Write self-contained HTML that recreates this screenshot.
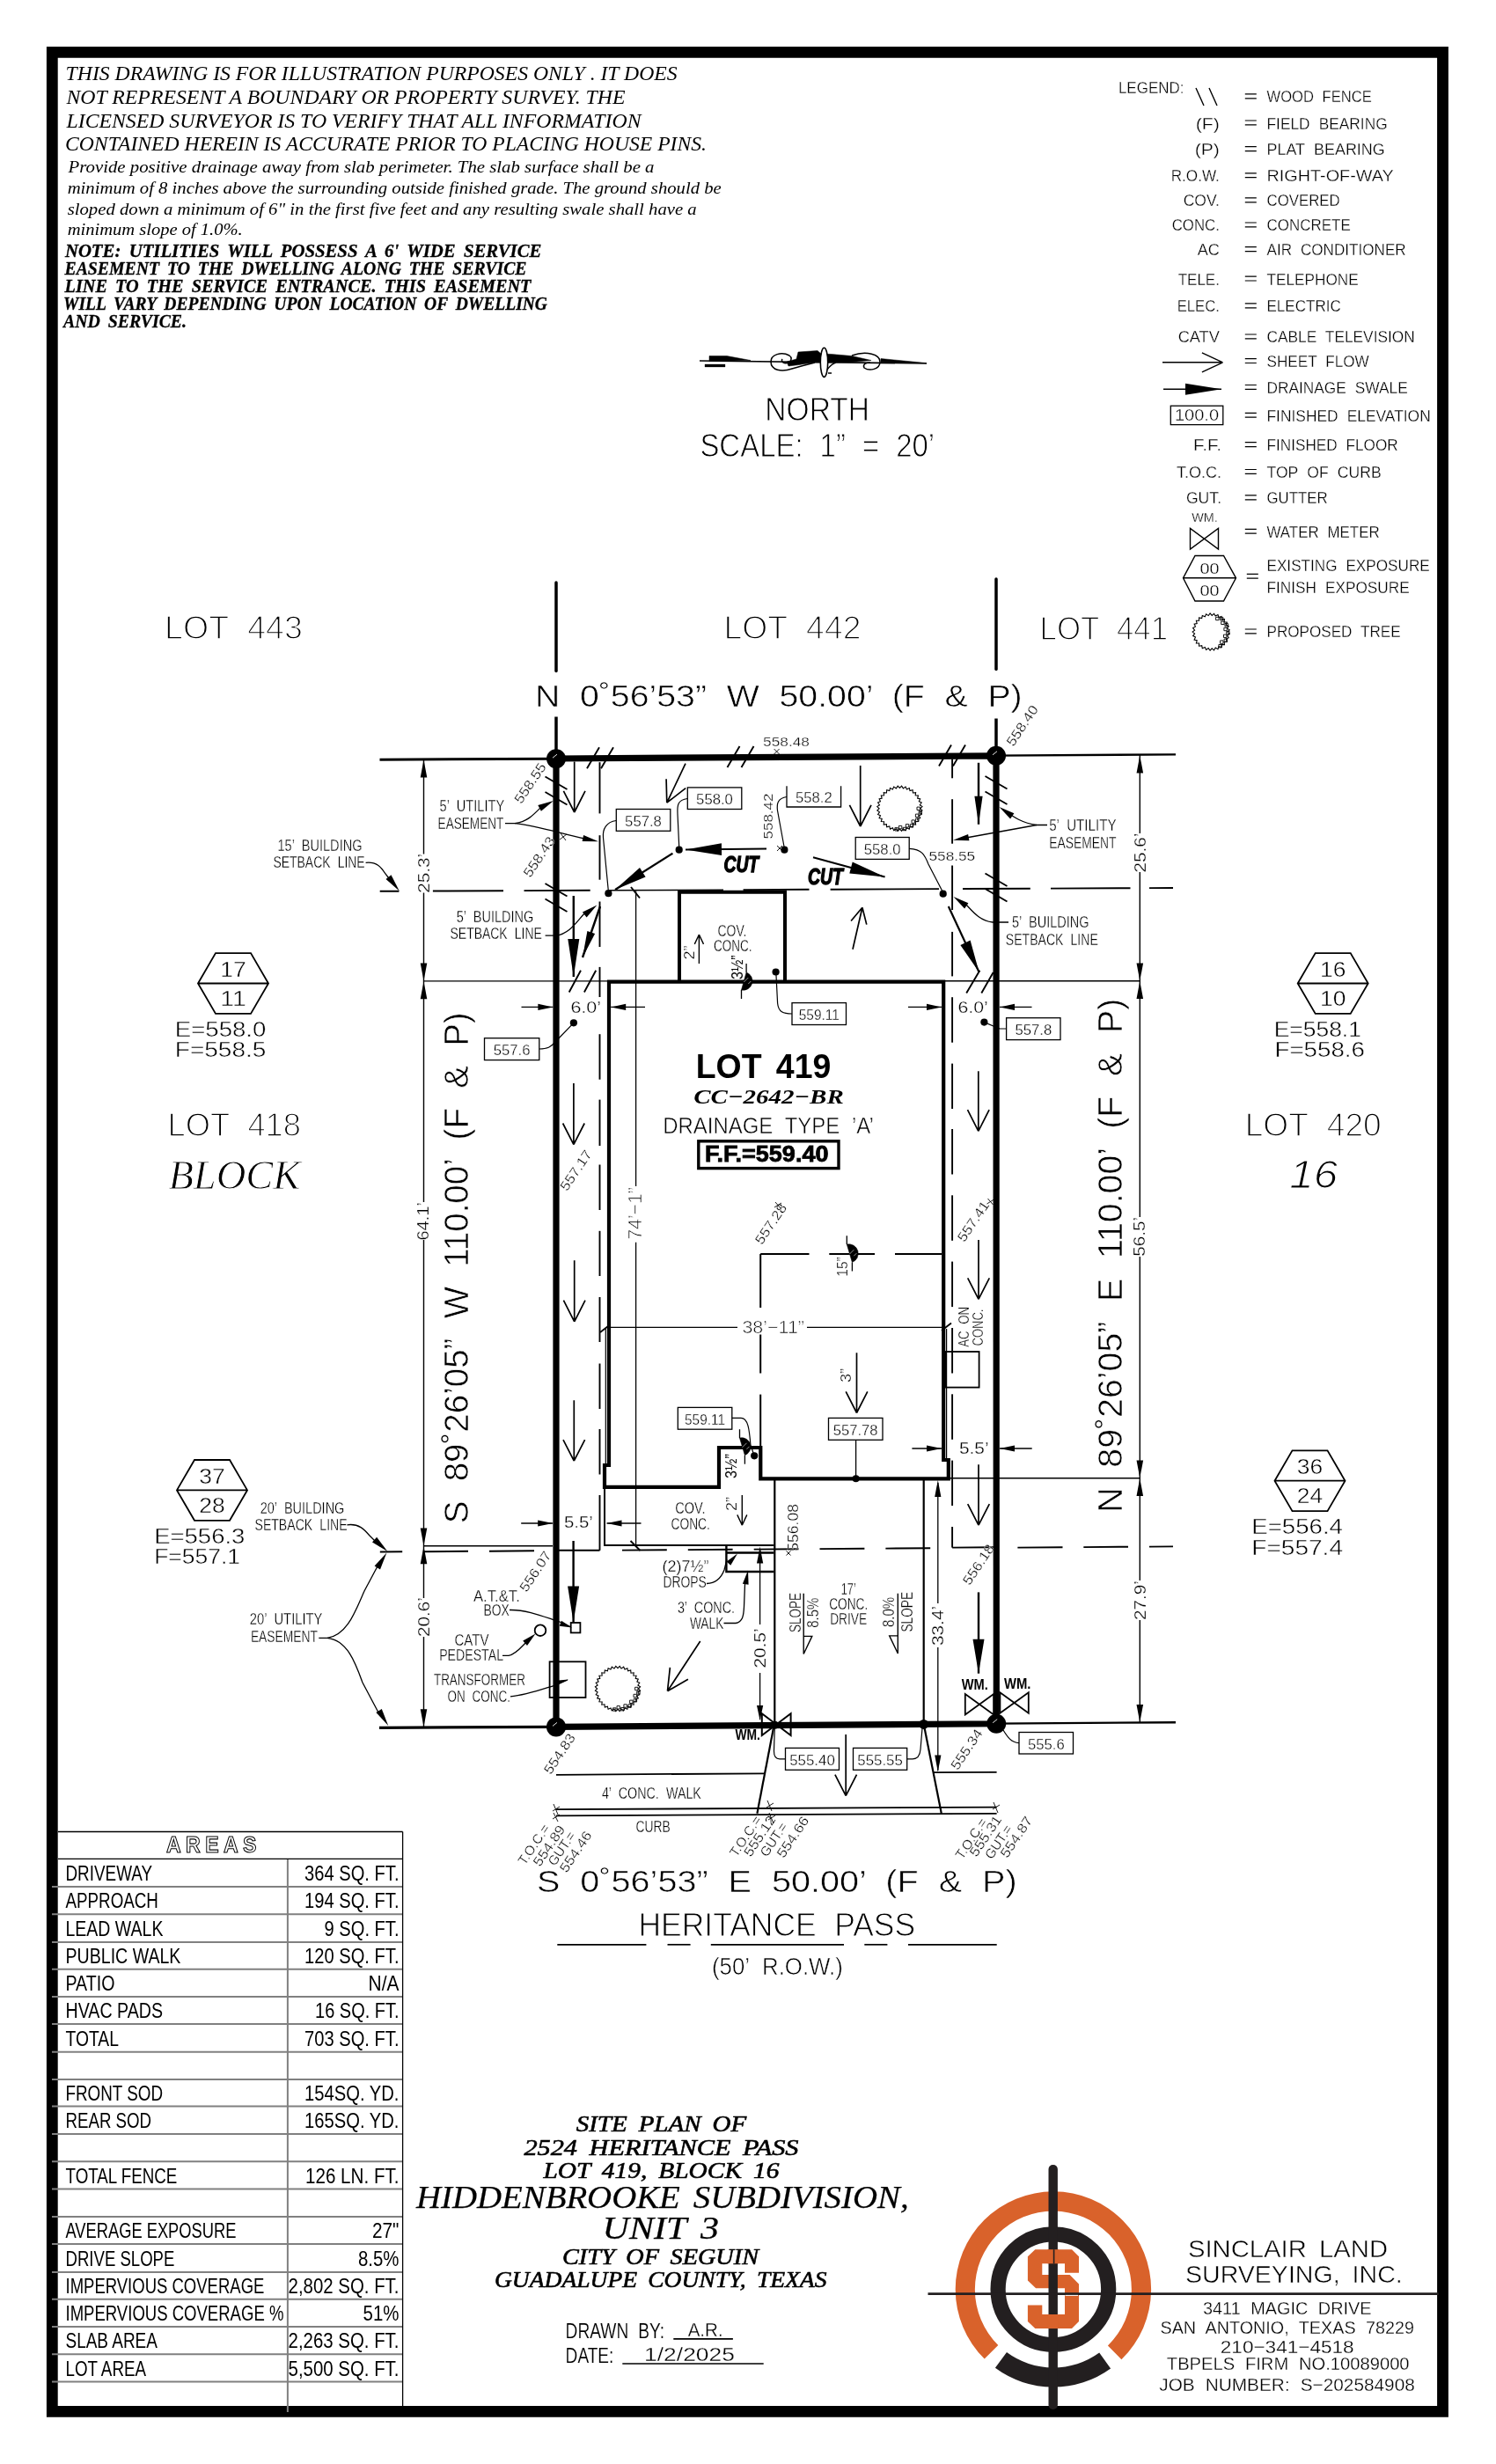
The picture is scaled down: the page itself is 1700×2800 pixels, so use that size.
<!DOCTYPE html>
<html lang="en"><head><meta charset="utf-8"><title>Site Plan</title>
<style>html,body{margin:0;padding:0;background:#fff}svg{display:block}text{font-family:"Liberation Sans",sans-serif}</style></head>
<body>
<svg width="1700" height="2800" viewBox="0 0 1700 2800" font-family="Liberation Sans, sans-serif" fill="#000">
<defs><filter id="gs" x="0" y="0" width="1700" height="2800" filterUnits="userSpaceOnUse" color-interpolation-filters="sRGB"><feColorMatrix type="saturate" values="0"/></filter></defs>
<g filter="url(#gs)">
<path d="M52.9 53H1645.9V2746.7H52.9ZM65.7 65.7V2734.1H1633.1V65.7Z" fill="#000" fill-rule="evenodd"/>
<text x="74.6" y="91.4" font-size="22.6" textLength="695.0" lengthAdjust="spacingAndGlyphs" style="font-family:'Liberation Serif',serif" font-style="italic">THIS DRAWING IS FOR ILLUSTRATION PURPOSES ONLY . IT DOES</text>
<text x="75.5" y="118.2" font-size="22.6" textLength="635.0" lengthAdjust="spacingAndGlyphs" style="font-family:'Liberation Serif',serif" font-style="italic">NOT REPRESENT A BOUNDARY OR PROPERTY SURVEY. THE</text>
<text x="75.5" y="145.0" font-size="22.6" textLength="653.0" lengthAdjust="spacingAndGlyphs" style="font-family:'Liberation Serif',serif" font-style="italic">LICENSED SURVEYOR IS TO VERIFY THAT ALL INFORMATION</text>
<text x="74.0" y="170.6" font-size="22.6" textLength="729.0" lengthAdjust="spacingAndGlyphs" style="font-family:'Liberation Serif',serif" font-style="italic">CONTAINED HEREIN IS ACCURATE PRIOR TO PLACING HOUSE PINS.</text>
<text x="77.5" y="195.7" font-size="19.6" textLength="666.0" lengthAdjust="spacingAndGlyphs" style="font-family:'Liberation Serif',serif" font-style="italic">Provide positive drainage away from slab perimeter. The slab surface shall be a</text>
<text x="76.7" y="219.8" font-size="19.6" textLength="743.0" lengthAdjust="spacingAndGlyphs" style="font-family:'Liberation Serif',serif" font-style="italic">minimum of 8 inches above the surrounding outside finished grade. The ground should be</text>
<text x="76.7" y="243.9" font-size="19.6" textLength="715.0" lengthAdjust="spacingAndGlyphs" style="font-family:'Liberation Serif',serif" font-style="italic">sloped down a minimum of 6" in the first five feet and any resulting swale shall have a</text>
<text x="76.7" y="266.8" font-size="19.6" textLength="199.0" lengthAdjust="spacingAndGlyphs" style="font-family:'Liberation Serif',serif" font-style="italic">minimum slope of 1.0%.</text>
<text x="73.9" y="292.0" font-size="20" textLength="541.5" lengthAdjust="spacingAndGlyphs" style="font-family:'Liberation Serif',serif" font-weight="bold" font-style="italic" word-spacing="4" stroke="#000" stroke-width="0.3">NOTE: UTILITIES WILL POSSESS A 6' WIDE SERVICE</text>
<text x="73.5" y="312.0" font-size="20" textLength="525.0" lengthAdjust="spacingAndGlyphs" style="font-family:'Liberation Serif',serif" font-weight="bold" font-style="italic" word-spacing="4" stroke="#000" stroke-width="0.3">EASEMENT TO THE DWELLING ALONG THE SERVICE</text>
<text x="73.5" y="332.0" font-size="20" textLength="530.0" lengthAdjust="spacingAndGlyphs" style="font-family:'Liberation Serif',serif" font-weight="bold" font-style="italic" word-spacing="4" stroke="#000" stroke-width="0.3">LINE TO THE SERVICE ENTRANCE. THIS EASEMENT</text>
<text x="72.0" y="352.2" font-size="20" textLength="550.0" lengthAdjust="spacingAndGlyphs" style="font-family:'Liberation Serif',serif" font-weight="bold" font-style="italic" word-spacing="4" stroke="#000" stroke-width="0.3">WILL VARY DEPENDING UPON LOCATION OF DWELLING</text>
<text x="72.0" y="372.2" font-size="20" textLength="140.0" lengthAdjust="spacingAndGlyphs" style="font-family:'Liberation Serif',serif" font-weight="bold" font-style="italic" word-spacing="4" stroke="#000" stroke-width="0.3">AND SERVICE.</text>
<text x="1270.9" y="106.0" font-size="18.32" textLength="74.7" lengthAdjust="spacingAndGlyphs" stroke="#fff" stroke-width="0.3">LEGEND:</text>
<path d="M1359 100L1368 120M1374 100L1383 120" fill="none" stroke="#000" stroke-width="1.4" />
<path d="M1414.8 106.9h13M1414.8 111.8h13" fill="none" stroke="#000" stroke-width="1.2" />
<text x="1439.5" y="116.4" font-size="18.32" word-spacing="5.50" textLength="119.2" lengthAdjust="spacingAndGlyphs" stroke="#fff" stroke-width="0.3">WOOD FENCE</text>
<path d="M1414.8 137.0h13M1414.8 141.9h13" fill="none" stroke="#000" stroke-width="1.2" />
<text x="1439.5" y="146.5" font-size="18.32" word-spacing="5.50" textLength="137.2" lengthAdjust="spacingAndGlyphs" stroke="#fff" stroke-width="0.3">FIELD BEARING</text>
<text x="1385.9" y="146.5" font-size="18.32" text-anchor="end" textLength="27.2" lengthAdjust="spacingAndGlyphs" stroke="#fff" stroke-width="0.3">(F)</text>
<path d="M1414.8 166.7h13M1414.8 171.6h13" fill="none" stroke="#000" stroke-width="1.2" />
<text x="1439.5" y="176.2" font-size="18.32" word-spacing="5.50" textLength="134.2" lengthAdjust="spacingAndGlyphs" stroke="#fff" stroke-width="0.3">PLAT BEARING</text>
<text x="1385.9" y="176.2" font-size="18.32" text-anchor="end" textLength="28.2" lengthAdjust="spacingAndGlyphs" stroke="#fff" stroke-width="0.3">(P)</text>
<path d="M1414.8 196.8h13M1414.8 201.7h13" fill="none" stroke="#000" stroke-width="1.2" />
<text x="1439.5" y="206.2" font-size="18.32" textLength="144.2" lengthAdjust="spacingAndGlyphs" stroke="#fff" stroke-width="0.3">RIGHT-OF-WAY</text>
<text x="1385.9" y="206.2" font-size="18.32" text-anchor="end" textLength="55.2" lengthAdjust="spacingAndGlyphs" stroke="#fff" stroke-width="0.3">R.O.W.</text>
<path d="M1414.8 224.9h13M1414.8 229.8h13" fill="none" stroke="#000" stroke-width="1.2" />
<text x="1439.5" y="234.3" font-size="18.32" textLength="83.2" lengthAdjust="spacingAndGlyphs" stroke="#fff" stroke-width="0.3">COVERED</text>
<text x="1385.9" y="234.3" font-size="18.32" text-anchor="end" textLength="41.2" lengthAdjust="spacingAndGlyphs" stroke="#fff" stroke-width="0.3">COV.</text>
<path d="M1414.8 253.0h13M1414.8 257.9h13" fill="none" stroke="#000" stroke-width="1.2" />
<text x="1439.5" y="262.4" font-size="18.32" textLength="95.2" lengthAdjust="spacingAndGlyphs" stroke="#fff" stroke-width="0.3">CONCRETE</text>
<text x="1385.9" y="262.4" font-size="18.32" text-anchor="end" textLength="54.2" lengthAdjust="spacingAndGlyphs" stroke="#fff" stroke-width="0.3">CONC.</text>
<path d="M1414.8 280.7h13M1414.8 285.6h13" fill="none" stroke="#000" stroke-width="1.2" />
<text x="1439.5" y="290.1" font-size="18.32" word-spacing="5.50" textLength="158.2" lengthAdjust="spacingAndGlyphs" stroke="#fff" stroke-width="0.3">AIR CONDITIONER</text>
<text x="1385.9" y="290.1" font-size="18.32" text-anchor="end" textLength="25.2" lengthAdjust="spacingAndGlyphs" stroke="#fff" stroke-width="0.3">AC</text>
<path d="M1414.8 314.1h13M1414.8 319.0h13" fill="none" stroke="#000" stroke-width="1.2" />
<text x="1439.5" y="323.5" font-size="18.32" textLength="104.2" lengthAdjust="spacingAndGlyphs" stroke="#fff" stroke-width="0.3">TELEPHONE</text>
<text x="1385.9" y="323.5" font-size="18.32" text-anchor="end" textLength="47.2" lengthAdjust="spacingAndGlyphs" stroke="#fff" stroke-width="0.3">TELE.</text>
<path d="M1414.8 344.9h13M1414.8 349.8h13" fill="none" stroke="#000" stroke-width="1.2" />
<text x="1439.5" y="354.3" font-size="18.32" textLength="84.2" lengthAdjust="spacingAndGlyphs" stroke="#fff" stroke-width="0.3">ELECTRIC</text>
<text x="1385.9" y="354.3" font-size="18.32" text-anchor="end" textLength="48.2" lengthAdjust="spacingAndGlyphs" stroke="#fff" stroke-width="0.3">ELEC.</text>
<path d="M1414.8 380.0h13M1414.8 384.9h13" fill="none" stroke="#000" stroke-width="1.2" />
<text x="1439.5" y="389.4" font-size="18.32" word-spacing="5.50" textLength="168.2" lengthAdjust="spacingAndGlyphs" stroke="#fff" stroke-width="0.3">CABLE TELEVISION</text>
<text x="1385.9" y="389.4" font-size="18.32" text-anchor="end" textLength="47.2" lengthAdjust="spacingAndGlyphs" stroke="#fff" stroke-width="0.3">CATV</text>
<path d="M1414.8 407.6h13M1414.8 412.5h13" fill="none" stroke="#000" stroke-width="1.2" />
<text x="1439.5" y="417.0" font-size="18.32" word-spacing="5.50" textLength="116.2" lengthAdjust="spacingAndGlyphs" stroke="#fff" stroke-width="0.3">SHEET FLOW</text>
<path d="M1414.8 437.5h13M1414.8 442.4h13" fill="none" stroke="#000" stroke-width="1.2" />
<text x="1439.5" y="446.9" font-size="18.32" word-spacing="5.50" textLength="160.2" lengthAdjust="spacingAndGlyphs" stroke="#fff" stroke-width="0.3">DRAINAGE SWALE</text>
<path d="M1414.8 469.3h13M1414.8 474.2h13" fill="none" stroke="#000" stroke-width="1.2" />
<text x="1439.5" y="478.8" font-size="18.32" word-spacing="5.50" textLength="186.2" lengthAdjust="spacingAndGlyphs" stroke="#fff" stroke-width="0.3">FINISHED ELEVATION</text>
<path d="M1414.8 502.7h13M1414.8 507.6h13" fill="none" stroke="#000" stroke-width="1.2" />
<text x="1439.5" y="512.1" font-size="18.32" word-spacing="5.50" textLength="149.2" lengthAdjust="spacingAndGlyphs" stroke="#fff" stroke-width="0.3">FINISHED FLOOR</text>
<text x="1388.1" y="512.1" font-size="18.32" text-anchor="end" textLength="32.2" lengthAdjust="spacingAndGlyphs" stroke="#fff" stroke-width="0.3">F.F.</text>
<path d="M1414.8 533.5h13M1414.8 538.4h13" fill="none" stroke="#000" stroke-width="1.2" />
<text x="1439.5" y="542.9" font-size="18.32" word-spacing="5.50" textLength="130.2" lengthAdjust="spacingAndGlyphs" stroke="#fff" stroke-width="0.3">TOP OF CURB</text>
<text x="1388.1" y="542.9" font-size="18.32" text-anchor="end" textLength="51.2" lengthAdjust="spacingAndGlyphs" stroke="#fff" stroke-width="0.3">T.O.C.</text>
<path d="M1414.8 562.9h13M1414.8 567.8h13" fill="none" stroke="#000" stroke-width="1.2" />
<text x="1439.5" y="572.4" font-size="18.32" textLength="69.2" lengthAdjust="spacingAndGlyphs" stroke="#fff" stroke-width="0.3">GUTTER</text>
<text x="1388.1" y="572.4" font-size="18.32" text-anchor="end" textLength="40.2" lengthAdjust="spacingAndGlyphs" stroke="#fff" stroke-width="0.3">GUT.</text>
<path d="M1414.8 601.3h13M1414.8 606.2h13" fill="none" stroke="#000" stroke-width="1.2" />
<text x="1439.5" y="610.8" font-size="18.32" word-spacing="5.50" textLength="128.2" lengthAdjust="spacingAndGlyphs" stroke="#fff" stroke-width="0.3">WATER METER</text>
<text x="1439.5" y="648.5" font-size="18.32" word-spacing="5.50" textLength="185.2" lengthAdjust="spacingAndGlyphs" stroke="#fff" stroke-width="0.3">EXISTING EXPOSURE</text>
<text x="1439.5" y="674.2" font-size="18.32" word-spacing="5.50" textLength="162.2" lengthAdjust="spacingAndGlyphs" stroke="#fff" stroke-width="0.3">FINISH EXPOSURE</text>
<path d="M1414.8 715.0h13M1414.8 719.9h13" fill="none" stroke="#000" stroke-width="1.2" />
<text x="1439.5" y="724.4" font-size="18.32" word-spacing="5.50" textLength="152.2" lengthAdjust="spacingAndGlyphs" stroke="#fff" stroke-width="0.3">PROPOSED TREE</text>
<path d="M1416.8 652.3h13M1416.8 657.2h13" fill="none" stroke="#000" stroke-width="1.2" />
<path d="M1321.0 411.8L1389.5 411.8M1389.5 411.8L1365.9 422.8M1389.5 411.8L1365.9 400.8" fill="none" stroke="#000" stroke-width="1.4" />
<line x1="1322.0" y1="442.2" x2="1388.0" y2="442.2" stroke="#000" stroke-width="1.6"/>
<polygon points="1388.0,442.2 1347.0,448.7 1347.0,435.7" fill="#000"/>
<rect x="1330.3" y="461.2" width="59.5" height="21.4" fill="none" stroke="#000" stroke-width="1.3"/>
<text x="1360.0" y="478.1" font-size="17.59" text-anchor="middle" textLength="50.1" lengthAdjust="spacingAndGlyphs" stroke="#fff" stroke-width="0.3">100.0</text>
<text x="1369.0" y="593.4" font-size="15.52" text-anchor="middle" textLength="29.6" lengthAdjust="spacingAndGlyphs" stroke="#fff" stroke-width="0.3">WM.</text>
<path d="M1352.5 600.5V624L1384.5 600.5V624Z" fill="none" stroke="#000" stroke-width="1.4" />
<path d="M1344.5 656.8L1358 631.5H1390.5L1404.5 656.8L1390.5 683H1358ZM1344.5 656.8H1404.5" fill="none" stroke="#000" stroke-width="1.4" />
<text x="1374.5" y="651.6" font-size="17.07" text-anchor="middle" textLength="22.0" lengthAdjust="spacingAndGlyphs" stroke="#fff" stroke-width="0.3">00</text>
<text x="1374.5" y="676.6" font-size="17.07" text-anchor="middle" textLength="22.0" lengthAdjust="spacingAndGlyphs" stroke="#fff" stroke-width="0.3">00</text>
<polygon points="1394.9,718.1 1397.2,720.4 1394.5,722.1 1396.2,724.8 1393.2,726.0 1394.3,729.0 1391.1,729.4 1391.5,732.6 1388.3,732.4 1388.0,735.6 1385.0,734.6 1384.0,737.7 1381.2,736.1 1379.6,738.9 1377.2,736.8 1375.1,739.2 1373.2,736.6 1370.6,738.4 1369.3,735.5 1366.3,736.7 1365.7,733.6 1362.5,734.2 1362.6,731.0 1359.4,730.9 1360.2,727.7 1357.1,727.0 1358.5,724.1 1355.6,722.6 1357.6,720.1 1355.1,718.1 1357.6,716.1 1355.6,713.6 1358.5,712.1 1357.1,709.2 1360.2,708.5 1359.4,705.3 1362.6,705.2 1362.5,702.0 1365.7,702.6 1366.3,699.5 1369.3,700.7 1370.6,697.8 1373.2,699.6 1375.1,697.0 1377.2,699.4 1379.6,697.3 1381.2,700.1 1384.0,698.5 1385.0,701.6 1388.0,700.6 1388.3,703.8 1391.5,703.6 1391.1,706.8 1394.3,707.2 1393.2,710.2 1396.2,711.4 1394.5,714.1 1397.2,715.8" fill="none" stroke="#000" stroke-width="1.1"/>
<path d="M1381.6 701.3h3.4v3.4h-3.4zM1386.5 701.4h3.4v3.4h-3.4zM1387.7 706.1h3.4v3.4h-3.4zM1392.0 708.5h3.4v3.4h-3.4zM1390.9 713.3h3.4v3.4h-3.4zM1393.7 717.4h3.4v3.4h-3.4zM1390.5 721.1h3.4v3.4h-3.4zM1391.1 726.0h3.4v3.4h-3.4zM1386.6 727.9h3.4v3.4h-3.4zM1384.9 732.5h3.4v3.4h-3.4z" fill="none" stroke="#000" stroke-width="0.9" />
<path d="M795 410L1053 413" fill="none" stroke="#000" stroke-width="1.6" />
<path d="M806 404.5L826 404.5L853 409.5L806 410.5Z" fill="#000" stroke="#000" stroke-width="0.5" />
<path d="M801 414H824V417H801Z" fill="#000" stroke="#000" stroke-width="0.3" />
<path d="M1001 407.5L1053 412.6L1001 411.8Z" fill="#000" stroke="#000" stroke-width="0.5" />
<path d="M894 411L905 408L907 400L929 398.5L933 402L945 402.5L968 404.5L990 409.5L968 411.5L945 412L925 412L908 414.5L896 416Z" fill="#000" stroke="#000" stroke-width="0.5" />
<path d="M897 404C888 399 876 403 876 411C876 421 888 423 900 419C910 416 918 414 926 412M897 404C900 406 900 410 896 412C891 414 887 411 889 408" fill="none" stroke="#000" stroke-width="1.5" />
<path d="M968 404C985 398 1000 403 1000 411C1000 420 988 422 982 418C980 414 984 412 989 412" fill="none" stroke="#000" stroke-width="1.5" />
<ellipse cx="936.5" cy="411.8" rx="4.2" ry="16.6" fill="#fff" stroke="#000" stroke-width="1.6"/>
<path d="M940 420C943 416 946 413 950 412M941 424L945 424" fill="none" stroke="#000" stroke-width="1.3" />
<text x="869.3" y="478.4" font-size="36.66" textLength="118.7" lengthAdjust="spacingAndGlyphs" stroke="#fff" stroke-width="0.9">NORTH</text>
<text x="795.4" y="519.2" font-size="36.15" word-spacing="10.84" textLength="266.8" lengthAdjust="spacingAndGlyphs" stroke="#fff" stroke-width="0.9">SCALE: 1” = 20’</text>
<text x="187.1" y="726.1" font-size="37.02" word-spacing="11.11" textLength="156.8" lengthAdjust="spacingAndGlyphs" stroke="#fff" stroke-width="1.5">LOT 443</text>
<text x="822.5" y="726.2" font-size="37.02" word-spacing="11.11" textLength="156.0" lengthAdjust="spacingAndGlyphs" stroke="#fff" stroke-width="1.5">LOT 442</text>
<text x="1181.5" y="726.8" font-size="37.02" word-spacing="11.11" textLength="145.6" lengthAdjust="spacingAndGlyphs" stroke="#fff" stroke-width="1.5">LOT 441</text>
<text x="190.5" y="1290.8" font-size="37.53" word-spacing="11.26" textLength="151.5" lengthAdjust="spacingAndGlyphs" stroke="#fff" stroke-width="1.5">LOT 418</text>
<text x="1414.7" y="1290.8" font-size="37.53" word-spacing="11.26" textLength="155.1" lengthAdjust="spacingAndGlyphs" stroke="#fff" stroke-width="1.5">LOT 420</text>
<text x="191.4" y="1350.5" font-size="47.3" textLength="150.0" lengthAdjust="spacingAndGlyphs" style="font-family:'Liberation Serif',serif" font-style="italic" stroke="#fff" stroke-width="0.9">BLOCK</text>
<text x="1465.3" y="1349.9" font-size="44.38" textLength="54.8" lengthAdjust="spacingAndGlyphs" font-style="italic" stroke="#fff" stroke-width="1.2">16</text>
<text x="607.9" y="802.8" font-size="34.77" word-spacing="10.43" textLength="553.8" lengthAdjust="spacingAndGlyphs" stroke="#fff" stroke-width="0.6">N 0˚56’53” W 50.00’ (F &amp; P)</text>
<text x="609.9" y="2149.5" font-size="35.19" word-spacing="10.56" textLength="545.8" lengthAdjust="spacingAndGlyphs" stroke="#fff" stroke-width="0.6">S 0˚56’53” E 50.00’ (F &amp; P)</text>
<text x="529.2" y="1729.0" font-size="38.0" word-spacing="11.40" textLength="581.0" lengthAdjust="spacingAndGlyphs" transform="rotate(-90 531.5 1729.0)" stroke="#fff" stroke-width="0.6">S 89˚26’05” W 110.00’ (F &amp; P)</text>
<text x="1272.7" y="1716.5" font-size="38.0" word-spacing="11.40" textLength="584.1" lengthAdjust="spacingAndGlyphs" transform="rotate(-90 1275.0 1716.5)" stroke="#fff" stroke-width="0.6">N 89˚26’05” E 110.00’ (F &amp; P)</text>
<line x1="632.0" y1="662.0" x2="632.0" y2="762.4" stroke="#000" stroke-width="3.5" stroke-linecap="round"/>
<line x1="632.0" y1="814.5" x2="632.0" y2="862.0" stroke="#000" stroke-width="3.5"/>
<line x1="1132.0" y1="658.0" x2="1132.0" y2="760.4" stroke="#000" stroke-width="3.5" stroke-linecap="round"/>
<line x1="1132.0" y1="816.5" x2="1132.0" y2="859.0" stroke="#000" stroke-width="3.5"/>
<line x1="431.5" y1="863.2" x2="632.0" y2="862.2" stroke="#000" stroke-width="3.0"/>
<line x1="431.0" y1="1963.3" x2="632.0" y2="1962.4" stroke="#000" stroke-width="3.2"/>
<line x1="1132.0" y1="858.6" x2="1336.0" y2="857.4" stroke="#000" stroke-width="2.4"/>
<line x1="1132.0" y1="1958.6" x2="1336.0" y2="1957.2" stroke="#000" stroke-width="2.4"/>
<line x1="481.5" y1="863.0" x2="481.5" y2="970.5" stroke="#000" stroke-width="1.4"/>
<line x1="481.5" y1="1014.5" x2="481.5" y2="1366.0" stroke="#000" stroke-width="1.4"/>
<line x1="481.5" y1="1409.0" x2="481.5" y2="1816.0" stroke="#000" stroke-width="1.4"/>
<line x1="481.5" y1="1860.0" x2="481.5" y2="1963.0" stroke="#000" stroke-width="1.4"/>
<polygon points="481.5,863.6 485.3,883.6 477.7,883.6" fill="#000"/>
<polygon points="481.5,1114.6 477.7,1094.6 485.3,1094.6" fill="#000"/>
<polygon points="481.5,1115.2 485.3,1135.2 477.7,1135.2" fill="#000"/>
<polygon points="481.5,1756.5 477.7,1736.5 485.3,1736.5" fill="#000"/>
<polygon points="481.5,1757.2 485.3,1777.2 477.7,1777.2" fill="#000"/>
<polygon points="481.5,1962.3 477.7,1942.3 485.3,1942.3" fill="#000"/>
<text x="486.6" y="1013.7" font-size="19.15" textLength="45.0" lengthAdjust="spacingAndGlyphs" transform="rotate(-90 487.7 1013.7)" stroke="#fff" stroke-width="0.3">25.3’</text>
<text x="486.0" y="1408.5" font-size="17.59" textLength="43.6" lengthAdjust="spacingAndGlyphs" transform="rotate(-90 487.1 1408.5)" stroke="#fff" stroke-width="0.3">64.1’</text>
<text x="486.6" y="1859.0" font-size="19.15" textLength="45.0" lengthAdjust="spacingAndGlyphs" transform="rotate(-90 487.7 1859.0)" stroke="#fff" stroke-width="0.3">20.6’</text>
<line x1="481.5" y1="1114.9" x2="690.0" y2="1114.9" stroke="#000" stroke-width="1.4"/>
<line x1="481.5" y1="1756.8" x2="628.0" y2="1756.8" stroke="#000" stroke-width="1.4"/>
<line x1="1295.3" y1="858.0" x2="1295.3" y2="947.0" stroke="#000" stroke-width="1.4"/>
<line x1="1295.3" y1="991.0" x2="1295.3" y2="1383.0" stroke="#000" stroke-width="1.4"/>
<line x1="1295.3" y1="1428.0" x2="1295.3" y2="1796.0" stroke="#000" stroke-width="1.4"/>
<line x1="1295.3" y1="1841.0" x2="1295.3" y2="1957.4" stroke="#000" stroke-width="1.4"/>
<polygon points="1295.3,858.6 1299.1,878.6 1291.5,878.6" fill="#000"/>
<polygon points="1295.3,1114.5 1291.5,1094.5 1299.1,1094.5" fill="#000"/>
<polygon points="1295.3,1115.1 1299.1,1135.1 1291.5,1135.1" fill="#000"/>
<polygon points="1295.3,1679.4 1291.5,1659.4 1299.1,1659.4" fill="#000"/>
<polygon points="1295.3,1680.0 1299.1,1700.0 1291.5,1700.0" fill="#000"/>
<polygon points="1295.3,1957.0 1291.5,1937.0 1299.1,1937.0" fill="#000"/>
<text x="1300.4" y="990.5" font-size="19.15" textLength="45.0" lengthAdjust="spacingAndGlyphs" transform="rotate(-90 1301.5 990.5)" stroke="#fff" stroke-width="0.3">25.6’</text>
<text x="1299.8" y="1426.7" font-size="17.59" textLength="44.8" lengthAdjust="spacingAndGlyphs" transform="rotate(-90 1300.9 1426.7)" stroke="#fff" stroke-width="0.3">56.5’</text>
<text x="1300.4" y="1840.0" font-size="19.15" textLength="45.0" lengthAdjust="spacingAndGlyphs" transform="rotate(-90 1301.5 1840.0)" stroke="#fff" stroke-width="0.3">27.9’</text>
<line x1="1074.0" y1="1114.8" x2="1295.3" y2="1114.8" stroke="#000" stroke-width="1.4"/>
<line x1="1078.0" y1="1679.7" x2="1295.3" y2="1679.7" stroke="#000" stroke-width="1.4"/>
<line x1="431.7" y1="1012.8" x2="453.4" y2="1012.7" stroke="#000" stroke-width="1.9"/>
<line x1="491.9" y1="1012.5" x2="572.0" y2="1012.2" stroke="#000" stroke-width="1.9"/>
<line x1="595.5" y1="1012.1" x2="670.7" y2="1011.8" stroke="#000" stroke-width="1.9"/>
<line x1="844.6" y1="1011.1" x2="919.5" y2="1010.8" stroke="#000" stroke-width="1.9"/>
<line x1="943.6" y1="1010.7" x2="1067.0" y2="1010.1" stroke="#000" stroke-width="1.9"/>
<line x1="1094.0" y1="1010.0" x2="1170.8" y2="1009.7" stroke="#000" stroke-width="1.9"/>
<line x1="1194.0" y1="1009.6" x2="1284.5" y2="1009.2" stroke="#000" stroke-width="1.9"/>
<line x1="1306.0" y1="1009.1" x2="1333.0" y2="1009.0" stroke="#000" stroke-width="1.9"/>
<line x1="692.0" y1="1011.7" x2="822.0" y2="1011.2" stroke="#000" stroke-width="1.5"/>
<line x1="431.8" y1="1763.5" x2="457.2" y2="1763.3" stroke="#000" stroke-width="1.9"/>
<line x1="481.3" y1="1763.2" x2="532.0" y2="1762.8" stroke="#000" stroke-width="1.9"/>
<line x1="556.0" y1="1762.7" x2="607.0" y2="1762.3" stroke="#000" stroke-width="1.9"/>
<line x1="707.0" y1="1761.6" x2="757.8" y2="1761.3" stroke="#000" stroke-width="1.9"/>
<line x1="781.8" y1="1761.1" x2="832.6" y2="1760.8" stroke="#000" stroke-width="1.9"/>
<line x1="856.7" y1="1760.6" x2="907.5" y2="1760.3" stroke="#000" stroke-width="1.9"/>
<line x1="931.5" y1="1760.1" x2="982.4" y2="1759.8" stroke="#000" stroke-width="1.9"/>
<line x1="1006.4" y1="1759.6" x2="1057.2" y2="1759.2" stroke="#000" stroke-width="1.9"/>
<line x1="1156.4" y1="1758.6" x2="1207.5" y2="1758.2" stroke="#000" stroke-width="1.9"/>
<line x1="1231.3" y1="1758.1" x2="1282.0" y2="1757.7" stroke="#000" stroke-width="1.9"/>
<line x1="1306.0" y1="1757.6" x2="1333.0" y2="1757.4" stroke="#000" stroke-width="1.9"/>
<line x1="681.5" y1="866.2" x2="681.5" y2="924.4" stroke="#000" stroke-width="1.9"/>
<line x1="681.5" y1="949.2" x2="681.5" y2="999.7" stroke="#000" stroke-width="1.9"/>
<line x1="681.5" y1="1024.5" x2="681.5" y2="1076.0" stroke="#000" stroke-width="1.9"/>
<line x1="681.5" y1="1098.9" x2="681.5" y2="1133.0" stroke="#000" stroke-width="1.9"/>
<line x1="681.5" y1="1175.2" x2="681.5" y2="1226.7" stroke="#000" stroke-width="1.9"/>
<line x1="681.5" y1="1249.6" x2="681.5" y2="1302.0" stroke="#000" stroke-width="1.9"/>
<line x1="681.5" y1="1323.5" x2="681.5" y2="1375.0" stroke="#000" stroke-width="1.9"/>
<line x1="681.5" y1="1398.8" x2="681.5" y2="1450.0" stroke="#000" stroke-width="1.9"/>
<line x1="681.5" y1="1474.0" x2="681.5" y2="1525.0" stroke="#000" stroke-width="1.9"/>
<line x1="681.5" y1="1549.5" x2="681.5" y2="1601.0" stroke="#000" stroke-width="1.9"/>
<line x1="681.5" y1="1624.0" x2="681.5" y2="1675.5" stroke="#000" stroke-width="1.9"/>
<line x1="681.5" y1="1699.0" x2="681.5" y2="1761.8" stroke="#000" stroke-width="1.9"/>
<line x1="635.0" y1="1761.8" x2="681.5" y2="1761.8" stroke="#000" stroke-width="1.9"/>
<line x1="1082.1" y1="862.4" x2="1082.1" y2="884.3" stroke="#000" stroke-width="1.9"/>
<line x1="1082.1" y1="908.2" x2="1082.1" y2="958.7" stroke="#000" stroke-width="1.9"/>
<line x1="1082.1" y1="983.5" x2="1082.1" y2="1034.0" stroke="#000" stroke-width="1.9"/>
<line x1="1082.1" y1="1058.9" x2="1082.1" y2="1109.4" stroke="#000" stroke-width="1.9"/>
<line x1="1082.1" y1="1133.2" x2="1082.1" y2="1184.7" stroke="#000" stroke-width="1.9"/>
<line x1="1082.1" y1="1208.6" x2="1082.1" y2="1260.0" stroke="#000" stroke-width="1.9"/>
<line x1="1082.1" y1="1283.0" x2="1082.1" y2="1334.5" stroke="#000" stroke-width="1.9"/>
<line x1="1082.1" y1="1358.3" x2="1082.1" y2="1409.8" stroke="#000" stroke-width="1.9"/>
<line x1="1082.1" y1="1433.6" x2="1082.1" y2="1485.1" stroke="#000" stroke-width="1.9"/>
<line x1="1082.1" y1="1509.0" x2="1082.1" y2="1560.5" stroke="#000" stroke-width="1.9"/>
<line x1="1082.1" y1="1584.3" x2="1082.1" y2="1635.8" stroke="#000" stroke-width="1.9"/>
<line x1="1082.1" y1="1659.6" x2="1082.1" y2="1711.0" stroke="#000" stroke-width="1.9"/>
<line x1="1082.1" y1="1735.0" x2="1082.1" y2="1758.6" stroke="#000" stroke-width="1.9"/>
<line x1="1082.1" y1="1758.6" x2="1129.0" y2="1758.3" stroke="#000" stroke-width="1.9"/>
<path d="M692 1115.6H1072.2V1659H1077.8V1680.3H864.3V1645H817V1689.8H687V1665H692Z" fill="none" stroke="#000" stroke-width="4.2" stroke-linejoin="miter"/>
<line x1="688.3" y1="1510.0" x2="688.3" y2="1666.0" stroke="#000" stroke-width="1.2"/>
<line x1="1075.6" y1="1510.0" x2="1075.6" y2="1660.0" stroke="#000" stroke-width="1.2"/>
<path d="M772 1114V1013.8H892V1114" fill="none" stroke="#000" stroke-width="4.0" />
<path d="M687 1690V1756H879.5" fill="none" stroke="#000" stroke-width="2.0" />
<path d="M825.4 1756V1786H879.5M825.4 1764.5H879.5" fill="none" stroke="#000" stroke-width="2.4" />
<line x1="864.2" y1="1424.9" x2="919.5" y2="1424.9" stroke="#000" stroke-width="2.0"/>
<line x1="942.3" y1="1424.9" x2="994.0" y2="1424.9" stroke="#000" stroke-width="2.0"/>
<line x1="1017.0" y1="1424.9" x2="1070.0" y2="1424.9" stroke="#000" stroke-width="2.0"/>
<line x1="864.2" y1="1425.0" x2="864.2" y2="1486.0" stroke="#000" stroke-width="2.0"/>
<line x1="864.2" y1="1516.5" x2="864.2" y2="1560.5" stroke="#000" stroke-width="2.0"/>
<line x1="864.2" y1="1584.6" x2="864.2" y2="1645.0" stroke="#000" stroke-width="2.0"/>
<rect x="1074.3" y="1536.0" width="38.3" height="40.6" fill="none" stroke="#000" stroke-width="1.8"/>
<text x="1100.0" y="1529.8" font-size="16.55" word-spacing="4.96" textLength="46.0" lengthAdjust="spacingAndGlyphs" transform="rotate(-90 1101.0 1529.8)" stroke="#fff" stroke-width="0.3">AC ON</text>
<text x="1116.0" y="1528.5" font-size="16.55" textLength="42.0" lengthAdjust="spacingAndGlyphs" transform="rotate(-90 1117.0 1528.5)" stroke="#fff" stroke-width="0.3">CONC.</text>
<line x1="880.3" y1="1680.0" x2="880.3" y2="1959.7" stroke="#000" stroke-width="2.2"/>
<line x1="1049.7" y1="1680.0" x2="1049.7" y2="1959.2" stroke="#000" stroke-width="2.2"/>
<line x1="879.7" y1="1959.7" x2="860.4" y2="2060.7" stroke="#000" stroke-width="2.2"/>
<line x1="1049.7" y1="1959.2" x2="1069.8" y2="2060.7" stroke="#000" stroke-width="2.2"/>
<circle cx="1049.7" cy="1959.4" r="5.5" fill="#000"/>
<circle cx="880.5" cy="1960.3" r="4.5" fill="#000"/>
<path d="M632 862L1132 858.8L1132.3 1958.8L632 1962.4Z" fill="none" stroke="#000" stroke-width="7.2" stroke-linejoin="miter"/>
<circle cx="632.0" cy="862.2" r="11.0" fill="#000"/>
<line x1="628.0" y1="861.2" x2="633.0" y2="857.2" stroke="#fff" stroke-width="0.9"/>
<circle cx="1132.0" cy="858.8" r="11.0" fill="#000"/>
<line x1="1128.0" y1="857.8" x2="1133.0" y2="853.8" stroke="#fff" stroke-width="0.9"/>
<circle cx="1132.2" cy="1958.7" r="11.0" fill="#000"/>
<line x1="1128.2" y1="1957.7" x2="1133.2" y2="1953.7" stroke="#fff" stroke-width="0.9"/>
<circle cx="632.0" cy="1962.4" r="11.0" fill="#000"/>
<line x1="628.0" y1="1961.4" x2="633.0" y2="1957.4" stroke="#fff" stroke-width="0.9"/>
<line x1="632.0" y1="2016.8" x2="868.6" y2="2015.3" stroke="#000" stroke-width="1.8"/>
<line x1="1060.6" y1="2014.2" x2="1132.6" y2="2013.8" stroke="#000" stroke-width="1.8"/>
<line x1="632.0" y1="2056.2" x2="1132.6" y2="2053.6" stroke="#000" stroke-width="1.8"/>
<line x1="632.0" y1="2063.4" x2="1132.6" y2="2060.8" stroke="#000" stroke-width="1.8"/>
<text x="683.9" y="2044.2" font-size="18.11" word-spacing="5.43" textLength="113.0" lengthAdjust="spacingAndGlyphs" stroke="#fff" stroke-width="0.3">4’ CONC. WALK</text>
<text x="722.5" y="2082.2" font-size="18.11" textLength="39.2" lengthAdjust="spacingAndGlyphs" stroke="#fff" stroke-width="0.3">CURB</text>
<text x="725.4" y="2199.9" font-size="36.81" word-spacing="11.04" textLength="314.8" lengthAdjust="spacingAndGlyphs" stroke="#fff" stroke-width="1.0">HERITANCE PASS</text>
<line x1="633.3" y1="2209.8" x2="734.4" y2="2209.8" stroke="#000" stroke-width="1.7"/>
<line x1="758.5" y1="2209.8" x2="784.6" y2="2209.8" stroke="#000" stroke-width="1.7"/>
<line x1="807.8" y1="2209.8" x2="959.0" y2="2209.8" stroke="#000" stroke-width="1.7"/>
<line x1="982.3" y1="2209.8" x2="1008.4" y2="2209.8" stroke="#000" stroke-width="1.7"/>
<line x1="1032.0" y1="2209.8" x2="1132.7" y2="2209.8" stroke="#000" stroke-width="1.7"/>
<text x="808.9" y="2243.8" font-size="28.43" word-spacing="8.53" textLength="149.0" lengthAdjust="spacingAndGlyphs" stroke="#fff" stroke-width="0.6">(50’ R.O.W.)</text>
<path d="M667.0 873.2L681.0 849.2M683.0 873.2L697.0 849.2" fill="none" stroke="#000" stroke-width="1.9" />
<path d="M826.5 872.1L840.5 848.1M842.5 872.1L856.5 848.1" fill="none" stroke="#000" stroke-width="1.9" />
<path d="M1067.0 870.4L1081.0 846.4M1083.0 870.4L1097.0 846.4" fill="none" stroke="#000" stroke-width="1.9" />
<path d="M619.5 882.5L644.5 897.0M619.5 900.0L644.5 914.5" fill="none" stroke="#000" stroke-width="1.9" />
<path d="M619.5 1004.0L644.5 1018.5M619.5 1021.5L644.5 1036.0" fill="none" stroke="#000" stroke-width="1.9" />
<path d="M1119.5 882.0L1144.5 896.5M1119.5 899.5L1144.5 914.0" fill="none" stroke="#000" stroke-width="1.9" />
<path d="M1119.5 992.5L1144.5 1007.0M1119.5 1010.0L1144.5 1024.5" fill="none" stroke="#000" stroke-width="1.9" />
<path d="M646.7 1127.5L660 1102.7M663.9 1127.5L677.2 1102.7" fill="none" stroke="#000" stroke-width="1.9" />
<path d="M1098.2 1128.5L1113.4 1102.7M1115.3 1128.5L1128.7 1105" fill="none" stroke="#000" stroke-width="1.9" />
<circle cx="771.7" cy="965.7" r="4.1" fill="#000"/>
<circle cx="891.4" cy="965.7" r="4.1" fill="#000"/>
<circle cx="691.4" cy="1015.2" r="4.1" fill="#000"/>
<circle cx="881.6" cy="1104.5" r="4.1" fill="#000"/>
<circle cx="1071.7" cy="1015.7" r="4.1" fill="#000"/>
<circle cx="651.9" cy="1162.3" r="4.1" fill="#000"/>
<circle cx="1118.4" cy="1161.6" r="4.1" fill="#000"/>
<circle cx="857.2" cy="1654.3" r="4.1" fill="#000"/>
<circle cx="972.6" cy="1680.3" r="4.0" fill="#000"/>
<rect x="781.3" y="894.9" width="61.5" height="24.6" fill="none" stroke="#000" stroke-width="1.3"/>
<text x="812.0" y="914.0" font-size="17.07" text-anchor="middle" textLength="41.8" lengthAdjust="spacingAndGlyphs" stroke="#fff" stroke-width="0.3">558.0</text>
<rect x="700.3" y="919.5" width="61.5" height="24.8" fill="none" stroke="#000" stroke-width="1.3"/>
<text x="731.0" y="938.8" font-size="17.07" text-anchor="middle" textLength="41.8" lengthAdjust="spacingAndGlyphs" stroke="#fff" stroke-width="0.3">557.8</text>
<path d="M894.0 893.2V917.0H955.6V893.2" fill="none" stroke="#000" stroke-width="1.3" />
<text x="924.8" y="911.5" font-size="17.07" text-anchor="middle" textLength="41.8" lengthAdjust="spacingAndGlyphs" stroke="#fff" stroke-width="0.3">558.2</text>
<rect x="972.2" y="951.5" width="61.0" height="24.9" fill="none" stroke="#000" stroke-width="1.3"/>
<text x="1002.7" y="970.9" font-size="17.07" text-anchor="middle" textLength="41.8" lengthAdjust="spacingAndGlyphs" stroke="#fff" stroke-width="0.3">558.0</text>
<rect x="900.0" y="1139.6" width="61.5" height="24.9" fill="none" stroke="#000" stroke-width="1.3"/>
<text x="930.8" y="1159.1" font-size="17.07" text-anchor="middle" textLength="46.0" lengthAdjust="spacingAndGlyphs" stroke="#fff" stroke-width="0.3">559.11</text>
<rect x="550.5" y="1179.7" width="62.3" height="24.9" fill="none" stroke="#000" stroke-width="1.3"/>
<text x="581.6" y="1199.2" font-size="17.07" text-anchor="middle" textLength="41.8" lengthAdjust="spacingAndGlyphs" stroke="#fff" stroke-width="0.3">557.6</text>
<rect x="1143.6" y="1156.7" width="61.4" height="24.9" fill="none" stroke="#000" stroke-width="1.3"/>
<text x="1174.3" y="1176.2" font-size="17.07" text-anchor="middle" textLength="41.8" lengthAdjust="spacingAndGlyphs" stroke="#fff" stroke-width="0.3">557.8</text>
<rect x="770.3" y="1599.4" width="61.5" height="24.8" fill="none" stroke="#000" stroke-width="1.3"/>
<text x="801.0" y="1618.8" font-size="17.07" text-anchor="middle" textLength="46.0" lengthAdjust="spacingAndGlyphs" stroke="#fff" stroke-width="0.3">559.11</text>
<rect x="941.5" y="1611.4" width="61.5" height="24.9" fill="none" stroke="#000" stroke-width="1.3"/>
<text x="972.2" y="1630.9" font-size="17.07" text-anchor="middle" textLength="50.7" lengthAdjust="spacingAndGlyphs" stroke="#fff" stroke-width="0.3">557.78</text>
<rect x="892.5" y="1986.4" width="61.0" height="24.9" fill="none" stroke="#000" stroke-width="1.3"/>
<text x="923.0" y="2005.9" font-size="17.07" text-anchor="middle" textLength="51.5" lengthAdjust="spacingAndGlyphs" stroke="#fff" stroke-width="0.3">555.40</text>
<rect x="969.5" y="1986.4" width="61.2" height="24.9" fill="none" stroke="#000" stroke-width="1.3"/>
<text x="1000.1" y="2005.9" font-size="17.07" text-anchor="middle" textLength="51.5" lengthAdjust="spacingAndGlyphs" stroke="#fff" stroke-width="0.3">555.55</text>
<rect x="1158.0" y="1968.5" width="61.5" height="24.5" fill="none" stroke="#000" stroke-width="1.3"/>
<text x="1188.8" y="1987.6" font-size="17.07" text-anchor="middle" textLength="41.8" lengthAdjust="spacingAndGlyphs" stroke="#fff" stroke-width="0.3">555.6</text>
<path d="M781.3 907.5C770 909 769.5 915 770 925L771.7 962" fill="none" stroke="#000" stroke-width="1.2" />
<path d="M700.3 932.5C689 934 684.5 942 685.5 952L691.2 1011" fill="none" stroke="#000" stroke-width="1.2" />
<path d="M894 905.5C884 907 882.5 913 883.5 921L891 962" fill="none" stroke="#000" stroke-width="1.2" />
<path d="M1033.2 964.4C1048 965 1051 972 1055 982L1070.5 1012" fill="none" stroke="#000" stroke-width="1.2" />
<path d="M881.8 1104.5L883.6 1140C884.5 1150 890 1152 900 1152" fill="none" stroke="#000" stroke-width="1.2" />
<path d="M612.8 1192C622 1192 626 1190 631 1184L651.9 1162.3" fill="none" stroke="#000" stroke-width="1.2" />
<path d="M1118.4 1161.6L1136 1169H1143.6" fill="none" stroke="#000" stroke-width="1.2" />
<path d="M831.8 1611.4H842C850 1611.4 851.5 1624 852.9 1642L856 1651" fill="none" stroke="#000" stroke-width="1.2" />
<line x1="972.6" y1="1636.3" x2="972.6" y2="1680.0" stroke="#000" stroke-width="1.3"/>
<path d="M892.5 1998.8H886C881 1998.8 879.5 1995 879.5 1990L880.3 1964" fill="none" stroke="#000" stroke-width="1.2" />
<path d="M1030.7 1998.8H1037C1043 1998.8 1045.5 1994 1046 1988L1048 1964" fill="none" stroke="#000" stroke-width="1.2" />
<path d="M1140 1966C1145 1974 1149 1980 1158 1980.6" fill="none" stroke="#000" stroke-width="1.2" />
<path d="M652.7 865.5L652.7 923.0M652.7 923.0L640.4 898.9M652.7 923.0L665.0 898.9" fill="none" stroke="#000" stroke-width="1.7" />
<path d="M779.0 867.6L757.8 912.2M757.8 912.2L757.1 885.2M757.8 912.2L779.2 895.7" fill="none" stroke="#000" stroke-width="1.7" />
<path d="M977.7 870.0L977.7 939.0M977.7 939.0L965.4 914.9M977.7 939.0L990.0 914.9" fill="none" stroke="#000" stroke-width="1.7" />
<path d="M969.0 1078.8L979.9 1031.2M979.9 1031.2L984.8 1050.6M979.9 1031.2L967.1 1046.5" fill="none" stroke="#000" stroke-width="1.7" />
<path d="M651.9 1231.0L651.9 1300.6M651.9 1300.6L639.6 1276.5M651.9 1300.6L664.2 1276.5" fill="none" stroke="#000" stroke-width="1.7" />
<path d="M1111.8 1217.2L1111.8 1285.3M1111.8 1285.3L1099.5 1261.2M1111.8 1285.3L1124.1 1261.2" fill="none" stroke="#000" stroke-width="1.7" />
<path d="M652.7 1432.2L652.7 1501.8M652.7 1501.8L640.4 1477.7M652.7 1501.8L665.0 1477.7" fill="none" stroke="#000" stroke-width="1.7" />
<path d="M1112.0 1409.0L1112.0 1476.4M1112.0 1476.4L1099.7 1452.3M1112.0 1476.4L1124.3 1452.3" fill="none" stroke="#000" stroke-width="1.7" />
<path d="M652.3 1591.2L652.3 1660.2M652.3 1660.2L640.0 1636.1M652.3 1660.2L664.6 1636.1" fill="none" stroke="#000" stroke-width="1.7" />
<path d="M1112.0 1664.2L1112.0 1733.2M1112.0 1733.2L1099.7 1709.1M1112.0 1733.2L1124.3 1709.1" fill="none" stroke="#000" stroke-width="1.7" />
<path d="M973.5 1537.3L973.5 1605.5M973.5 1605.5L961.2 1581.4M973.5 1605.5L985.8 1581.4" fill="none" stroke="#000" stroke-width="1.7" />
<path d="M843.3 1699.0L843.3 1733.2M843.3 1733.2L837.8 1721.4M843.3 1733.2L848.8 1721.4" fill="none" stroke="#000" stroke-width="1.4" />
<path d="M794.4 1095.0L794.4 1062.0M794.4 1062.0L799.5 1072.9M794.4 1062.0L789.3 1072.9" fill="none" stroke="#000" stroke-width="1.4" />
<path d="M795.7 1865.0L758.5 1921.7M758.5 1921.7L761.4 1894.9M758.5 1921.7L781.9 1908.3" fill="none" stroke="#000" stroke-width="1.7" />
<path d="M961.2 1971.0L961.2 2040.7M961.2 2040.7L948.9 2016.6M961.2 2040.7L973.5 2016.6" fill="none" stroke="#000" stroke-width="1.7" />
<line x1="871.0" y1="964.5" x2="779.0" y2="965.6" stroke="#000" stroke-width="2.0"/>
<polygon points="779.0,965.6 819.9,958.2 820.1,972.0" fill="#000"/>
<line x1="764.4" y1="969.7" x2="699.0" y2="1011.0" stroke="#000" stroke-width="2.2"/>
<polygon points="699.0,1011.0 727.0,986.0 733.6,996.5" fill="#000"/>
<line x1="924.0" y1="974.3" x2="1005.6" y2="996.5" stroke="#000" stroke-width="2.0"/>
<polygon points="1005.6,996.5 965.3,992.4 968.7,979.6" fill="#000"/>
<line x1="1077.8" y1="1030.0" x2="1112.6" y2="1104.8" stroke="#000" stroke-width="2.2"/>
<polygon points="1112.6,1104.8 1091.4,1073.9 1102.6,1068.6" fill="#000"/>
<line x1="651.8" y1="1018.0" x2="651.8" y2="1110.0" stroke="#000" stroke-width="2.4"/>
<polygon points="651.8,1110.0 645.3,1067.0 658.3,1067.0" fill="#000"/>
<line x1="682.0" y1="1030.0" x2="662.0" y2="1088.0" stroke="#000" stroke-width="2.4"/>
<polygon points="662.0,1088.0 667.4,1058.1 676.1,1061.1" fill="#000"/>
<line x1="1112.0" y1="866.8" x2="1112.0" y2="936.8" stroke="#000" stroke-width="2.4"/>
<polygon points="1112.0,936.8 1107.4,904.8 1116.6,904.8" fill="#000"/>
<line x1="651.6" y1="1751.0" x2="651.6" y2="1843.4" stroke="#000" stroke-width="2.4"/>
<polygon points="651.6,1843.4 645.1,1802.4 658.1,1802.4" fill="#000"/>
<line x1="1112.0" y1="1809.4" x2="1112.0" y2="1901.7" stroke="#000" stroke-width="2.4"/>
<polygon points="1112.0,1901.7 1105.5,1862.7 1118.5,1862.7" fill="#000"/>
<text x="822.5" y="991.0" font-size="24.96" textLength="39.6" lengthAdjust="spacingAndGlyphs" font-weight="bold" font-style="italic" stroke="#000" stroke-width="1.3">CUT</text>
<text x="918.0" y="1004.5" font-size="24.96" textLength="40.0" lengthAdjust="spacingAndGlyphs" font-weight="bold" font-style="italic" stroke="#000" stroke-width="1.3">CUT</text>
<text x="790.7" y="1225.2" font-size="37.96" textLength="153.6" lengthAdjust="spacingAndGlyphs" font-weight="bold" word-spacing="6">LOT 419</text>
<text x="788.2" y="1253.8" font-size="24" textLength="170.6" lengthAdjust="spacingAndGlyphs" style="font-family:'Liberation Serif',serif" font-weight="bold" font-style="italic">CC−2642−BR</text>
<text x="753.2" y="1287.5" font-size="26.0" word-spacing="7.80" textLength="239.7" lengthAdjust="spacingAndGlyphs" stroke="#fff" stroke-width="0.5">DRAINAGE TYPE ’A’</text>
<rect x="793.8" y="1296.8" width="159.2" height="30.8" fill="none" stroke="#000" stroke-width="3.4"/>
<text x="800.9" y="1319.8" font-size="25.27" textLength="140.6" lengthAdjust="spacingAndGlyphs" font-weight="bold" stroke="#000" stroke-width="0.8">F.F.=559.40</text>
<text x="315.5" y="967.0" font-size="17.91" word-spacing="5.37" textLength="96.0" lengthAdjust="spacingAndGlyphs" stroke="#fff" stroke-width="0.3">15’ BUILDING</text>
<text x="310.4" y="985.8" font-size="17.91" word-spacing="5.37" textLength="104.3" lengthAdjust="spacingAndGlyphs" stroke="#fff" stroke-width="0.3">SETBACK LINE</text>
<path d="M415.6 980.3C428 979 433 985 438 993L448 1006" fill="none" stroke="#000" stroke-width="1.3" />
<polygon points="453.8,1012.4 438.5,999.0 444.5,994.3" fill="#000"/>
<text x="499.5" y="921.5" font-size="17.91" word-spacing="5.37" textLength="73.7" lengthAdjust="spacingAndGlyphs" stroke="#fff" stroke-width="0.3">5’ UTILITY</text>
<text x="497.6" y="941.6" font-size="17.91" textLength="74.8" lengthAdjust="spacingAndGlyphs" stroke="#fff" stroke-width="0.3">EASEMENT</text>
<path d="M574 935.6H585C600 934 608 924 617 915" fill="none" stroke="#000" stroke-width="1.3" />
<polygon points="629.0,910.0 614.9,921.8 611.3,915.1" fill="#000"/>
<path d="M585 935.6C610 938 640 948 664 953" fill="none" stroke="#000" stroke-width="1.3" />
<polygon points="680.0,956.2 661.6,956.0 663.1,948.9" fill="#000"/>
<text x="518.7" y="1047.8" font-size="17.91" word-spacing="5.37" textLength="87.7" lengthAdjust="spacingAndGlyphs" stroke="#fff" stroke-width="0.3">5’ BUILDING</text>
<text x="511.5" y="1067.4" font-size="17.91" word-spacing="5.37" textLength="104.3" lengthAdjust="spacingAndGlyphs" stroke="#fff" stroke-width="0.3">SETBACK LINE</text>
<path d="M619.6 1063.2H632C648 1061 656 1046 666 1036" fill="none" stroke="#000" stroke-width="1.3" />
<polygon points="678.4,1028.4 666.6,1042.5 661.9,1036.5" fill="#000"/>
<text x="1192.2" y="943.6" font-size="17.91" word-spacing="5.37" textLength="76.4" lengthAdjust="spacingAndGlyphs" stroke="#fff" stroke-width="0.3">5’ UTILITY</text>
<text x="1192.2" y="963.8" font-size="17.91" textLength="76.4" lengthAdjust="spacingAndGlyphs" stroke="#fff" stroke-width="0.3">EASEMENT</text>
<path d="M1190 937.5H1178C1160 935 1150 927 1140 920" fill="none" stroke="#000" stroke-width="1.3" />
<polygon points="1135.5,917.0 1152.4,924.2 1148.1,930.4" fill="#000"/>
<path d="M1178 937.5L1098 952" fill="none" stroke="#000" stroke-width="1.3" />
<polygon points="1083.0,954.8 1100.1,948.1 1101.4,955.2" fill="#000"/>
<text x="1149.9" y="1053.6" font-size="17.91" word-spacing="5.37" textLength="87.7" lengthAdjust="spacingAndGlyphs" stroke="#fff" stroke-width="0.3">5’ BUILDING</text>
<text x="1142.8" y="1073.7" font-size="17.91" word-spacing="5.37" textLength="105.0" lengthAdjust="spacingAndGlyphs" stroke="#fff" stroke-width="0.3">SETBACK LINE</text>
<path d="M1146 1048H1128C1112 1046 1104 1034 1096 1026" fill="none" stroke="#000" stroke-width="1.3" />
<polygon points="1083.5,1019.0 1100.4,1026.2 1096.1,1032.4" fill="#000"/>
<text x="295.7" y="1719.6" font-size="17.91" word-spacing="5.37" textLength="95.7" lengthAdjust="spacingAndGlyphs" stroke="#fff" stroke-width="0.3">20’ BUILDING</text>
<text x="289.5" y="1738.6" font-size="17.91" word-spacing="5.37" textLength="105.1" lengthAdjust="spacingAndGlyphs" stroke="#fff" stroke-width="0.3">SETBACK LINE</text>
<path d="M394.4 1732.8C408 1731 414 1738 420 1745L432 1757" fill="none" stroke="#000" stroke-width="1.3" />
<polygon points="440.4,1763.0 423.0,1752.4 428.1,1746.8" fill="#000"/>
<text x="283.7" y="1846.1" font-size="17.91" word-spacing="5.37" textLength="82.8" lengthAdjust="spacingAndGlyphs" stroke="#fff" stroke-width="0.3">20’ UTILITY</text>
<text x="284.9" y="1865.6" font-size="17.91" textLength="76.1" lengthAdjust="spacingAndGlyphs" stroke="#fff" stroke-width="0.3">EASEMENT</text>
<path d="M362.3 1861.4H372C395 1858 404 1830 414 1808L430 1778" fill="none" stroke="#000" stroke-width="1.3" />
<polygon points="439.4,1764.5 432.0,1783.5 425.6,1779.4" fill="#000"/>
<path d="M372 1861.4C395 1864 404 1890 412 1912L430 1946" fill="none" stroke="#000" stroke-width="1.3" />
<polygon points="441.2,1960.9 427.4,1946.0 433.8,1941.9" fill="#000"/>
<text x="537.9" y="1819.8" font-size="17.91" textLength="52.9" lengthAdjust="spacingAndGlyphs" stroke="#fff" stroke-width="0.3">A.T.&amp;T.</text>
<text x="549.4" y="1836.2" font-size="17.91" textLength="29.4" lengthAdjust="spacingAndGlyphs" stroke="#fff" stroke-width="0.3">BOX</text>
<path d="M579 1829.5C600 1829 620 1838 636 1843L648 1848.5" fill="none" stroke="#000" stroke-width="1.3" />
<polygon points="650.0,1849.5 635.7,1847.7 637.9,1841.7" fill="#000"/>
<rect x="648.7" y="1844.0" width="10.7" height="11.4" fill="none" stroke="#000" stroke-width="1.8"/>
<text x="516.5" y="1869.8" font-size="17.91" textLength="39.0" lengthAdjust="spacingAndGlyphs" stroke="#fff" stroke-width="0.3">CATV</text>
<text x="499.2" y="1887.2" font-size="17.91" textLength="72.8" lengthAdjust="spacingAndGlyphs" stroke="#fff" stroke-width="0.3">PEDESTAL</text>
<path d="M571 1881.4H578C586 1880 592 1872 598 1866" fill="none" stroke="#000" stroke-width="1.3" />
<polygon points="608.5,1856.5 599.0,1869.9 594.2,1864.5" fill="#000"/>
<circle cx="614.0" cy="1852.7" r="6.3" fill="none" stroke="#000" stroke-width="1.8"/>
<text x="492.9" y="1915.2" font-size="17.91" textLength="104.1" lengthAdjust="spacingAndGlyphs" stroke="#fff" stroke-width="0.3">TRANSFORMER</text>
<text x="508.5" y="1933.9" font-size="17.91" word-spacing="5.37" textLength="71.5" lengthAdjust="spacingAndGlyphs" stroke="#fff" stroke-width="0.3">ON CONC.</text>
<path d="M580 1927.8C600 1926 620 1918 634 1914L645 1909" fill="none" stroke="#000" stroke-width="1.3" />
<polygon points="646.0,1908.6 633.1,1914.7 631.8,1909.7" fill="#000"/>
<rect x="624.6" y="1888.3" width="40.9" height="40.7" fill="none" stroke="#000" stroke-width="1.8"/>
<polygon points="725.3,1919.0 727.6,1921.2 724.9,1923.0 726.8,1925.7 723.9,1927.0 725.3,1929.9 722.2,1930.7 723.1,1933.7 719.8,1934.0 720.2,1937.2 717.0,1936.8 716.7,1940.1 713.6,1939.2 712.9,1942.3 710.0,1940.9 708.7,1943.8 706.0,1941.9 704.2,1944.6 702.0,1942.3 699.8,1944.6 698.0,1941.9 695.3,1943.8 694.0,1940.9 691.1,1942.3 690.4,1939.2 687.3,1940.1 687.0,1936.8 683.8,1937.2 684.2,1934.0 680.9,1933.7 681.8,1930.7 678.7,1929.9 680.1,1927.0 677.2,1925.7 679.1,1923.0 676.4,1921.2 678.7,1919.0 676.4,1916.8 679.1,1915.0 677.2,1912.3 680.1,1911.0 678.7,1908.1 681.8,1907.3 680.9,1904.3 684.2,1904.0 683.8,1900.8 687.0,1901.2 687.3,1897.9 690.4,1898.8 691.1,1895.7 694.0,1897.1 695.3,1894.2 698.0,1896.1 699.8,1893.4 702.0,1895.7 704.2,1893.4 706.0,1896.1 708.7,1894.2 710.0,1897.1 712.9,1895.7 713.6,1898.8 716.7,1897.9 717.0,1901.2 720.2,1900.8 719.8,1904.0 723.1,1904.3 722.2,1907.3 725.3,1908.1 723.9,1911.0 726.8,1912.3 724.9,1915.0 727.6,1916.8" fill="none" stroke="#000" stroke-width="1.1"/>
<path d="M721.6 1917.3h3.4v3.4h-3.4zM723.7 1921.8h3.4v3.4h-3.4zM720.0 1925.3h3.4v3.4h-3.4zM720.2 1930.3h3.4v3.4h-3.4zM715.6 1932.1h3.4v3.4h-3.4zM713.9 1936.8h3.4v3.4h-3.4zM708.9 1936.8h3.4v3.4h-3.4zM705.6 1940.5h3.4v3.4h-3.4zM701.0 1938.6h3.4v3.4h-3.4zM696.5 1940.8h3.4v3.4h-3.4z" fill="none" stroke="#000" stroke-width="0.9" />
<polygon points="1045.7,918.8 1048.0,921.0 1045.3,922.8 1047.2,925.5 1044.3,926.8 1045.7,929.7 1042.6,930.4 1043.5,933.5 1040.2,933.8 1040.6,937.0 1037.4,936.6 1037.1,939.9 1034.0,939.0 1033.3,942.1 1030.4,940.7 1029.1,943.6 1026.4,941.7 1024.6,944.4 1022.4,942.1 1020.2,944.4 1018.4,941.7 1015.7,943.6 1014.4,940.7 1011.5,942.1 1010.8,939.0 1007.7,939.9 1007.4,936.6 1004.2,937.0 1004.6,933.8 1001.3,933.5 1002.2,930.4 999.1,929.7 1000.5,926.8 997.6,925.5 999.5,922.8 996.8,921.0 999.1,918.8 996.8,916.6 999.5,914.8 997.6,912.1 1000.5,910.8 999.1,907.9 1002.2,907.1 1001.3,904.1 1004.6,903.8 1004.2,900.6 1007.4,901.0 1007.7,897.7 1010.8,898.6 1011.5,895.5 1014.4,896.9 1015.7,894.0 1018.4,895.9 1020.2,893.2 1022.4,895.5 1024.6,893.2 1026.4,895.9 1029.1,894.0 1030.4,896.9 1033.3,895.5 1034.0,898.6 1037.1,897.7 1037.4,901.0 1040.6,900.6 1040.2,903.8 1043.5,904.1 1042.6,907.1 1045.7,907.9 1044.3,910.8 1047.2,912.1 1045.3,914.8 1048.0,916.6" fill="none" stroke="#000" stroke-width="1.1"/>
<path d="M1042.0 917.1h3.4v3.4h-3.4zM1044.1 921.6h3.4v3.4h-3.4zM1040.4 925.1h3.4v3.4h-3.4zM1040.6 930.1h3.4v3.4h-3.4zM1036.0 931.9h3.4v3.4h-3.4zM1034.3 936.6h3.4v3.4h-3.4zM1029.3 936.6h3.4v3.4h-3.4zM1026.0 940.3h3.4v3.4h-3.4zM1021.4 938.4h3.4v3.4h-3.4zM1016.9 940.6h3.4v3.4h-3.4z" fill="none" stroke="#000" stroke-width="0.9" />
<text x="815.5" y="1064.1" font-size="17.91" textLength="32.8" lengthAdjust="spacingAndGlyphs" stroke="#fff" stroke-width="0.3">COV.</text>
<text x="810.9" y="1080.9" font-size="17.91" textLength="43.6" lengthAdjust="spacingAndGlyphs" stroke="#fff" stroke-width="0.3">CONC.</text>
<text x="767.3" y="1719.8" font-size="17.91" textLength="34.2" lengthAdjust="spacingAndGlyphs" stroke="#fff" stroke-width="0.3">COV.</text>
<text x="762.5" y="1738.0" font-size="17.91" textLength="44.4" lengthAdjust="spacingAndGlyphs" stroke="#fff" stroke-width="0.3">CONC.</text>
<text x="752.6" y="1786.1" font-size="17.91" textLength="52.9" lengthAdjust="spacingAndGlyphs" stroke="#fff" stroke-width="0.3">(2)7½”</text>
<text x="753.4" y="1804.2" font-size="17.91" textLength="49.5" lengthAdjust="spacingAndGlyphs" stroke="#fff" stroke-width="0.3">DROPS</text>
<path d="M803 1799.5C815 1799 820 1792 823 1784L826 1772" fill="none" stroke="#000" stroke-width="1.3" />
<polygon points="838.0,1765.5 830.3,1778.8 825.6,1774.5" fill="#000"/>
<text x="769.9" y="1833.4" font-size="17.91" word-spacing="5.37" textLength="65.1" lengthAdjust="spacingAndGlyphs" stroke="#fff" stroke-width="0.3">3’ CONC.</text>
<text x="783.9" y="1850.8" font-size="17.91" textLength="38.5" lengthAdjust="spacingAndGlyphs" stroke="#fff" stroke-width="0.3">WALK</text>
<path d="M822.5 1844.5H836C844 1843 845 1836 845.5 1826L846.5 1800" fill="none" stroke="#000" stroke-width="1.3" />
<polygon points="850.0,1784.5 850.6,1800.8 843.9,1799.7" fill="#000"/>
<text x="964.2" y="1811.5" font-size="17.91" text-anchor="middle" textLength="17.1" lengthAdjust="spacingAndGlyphs" stroke="#fff" stroke-width="0.3">17’</text>
<text x="964.2" y="1828.8" font-size="17.91" text-anchor="middle" textLength="44.1" lengthAdjust="spacingAndGlyphs" stroke="#fff" stroke-width="0.3">CONC.</text>
<text x="964.2" y="1846.2" font-size="17.91" text-anchor="middle" textLength="42.1" lengthAdjust="spacingAndGlyphs" stroke="#fff" stroke-width="0.3">DRIVE</text>
<text x="908.9" y="1854.0" font-size="18.11" textLength="45.2" lengthAdjust="spacingAndGlyphs" transform="rotate(-90 910.0 1854.0)" stroke="#fff" stroke-width="0.3">SLOPE</text>
<text x="928.7" y="1848.7" font-size="18.11" textLength="34.2" lengthAdjust="spacingAndGlyphs" transform="rotate(-90 929.8 1848.7)" stroke="#fff" stroke-width="0.3">8.5%</text>
<path d="M913.2 1810.7V1879.5L922.8 1859.4H913.2" fill="none" stroke="#000" stroke-width="1.4" />
<text x="1014.4" y="1848.0" font-size="18.11" textLength="34.2" lengthAdjust="spacingAndGlyphs" transform="rotate(-90 1015.5 1848.0)" stroke="#fff" stroke-width="0.3">8.0%</text>
<text x="1036.2" y="1853.5" font-size="18.11" textLength="45.7" lengthAdjust="spacingAndGlyphs" transform="rotate(-90 1037.3 1853.5)" stroke="#fff" stroke-width="0.3">SLOPE</text>
<path d="M1020.3 1810.7V1879L1010.7 1858.9H1020.3" fill="none" stroke="#000" stroke-width="1.4" />
<text x="906.0" y="1761.8" font-size="16.04" textLength="53.9" lengthAdjust="spacingAndGlyphs" transform="rotate(-90 907.0 1761.8)" stroke="#fff" stroke-width="0.3">556.08</text>
<path d="M893.5 1762.5l5 5m0 -5l-5 5" fill="none" stroke="#000" stroke-width="0.9" />
<g transform="translate(783.4 1082.6) rotate(-90)">
<text x="0.0" y="5.9" font-size="17.07" text-anchor="middle" textLength="16.0" lengthAdjust="spacingAndGlyphs" stroke="#fff" stroke-width="0.3">2”</text>
</g>
<g transform="translate(837.7 1099.2) rotate(-90)">
<text x="0.0" y="6.1" font-size="17.69" text-anchor="middle" textLength="27.7" lengthAdjust="spacingAndGlyphs" stroke="#fff" stroke-width="0.01">3½”</text>
</g>
<line x1="848.1" y1="1095.1" x2="848.1" y2="1104.9" stroke="#000" stroke-width="1.3"/>
<line x1="842.5" y1="1125.0" x2="842.5" y2="1135.0" stroke="#000" stroke-width="1.3"/>
<path d="M848.1 1104.9A10.46 10.46 0 0 1 842.5 1125Z" fill="#000" stroke="#000" stroke-width="0.6" />
<path d="M845.3 1116.0l5 -5M850.3 1118.0l3 -3" fill="none" stroke="#fff" stroke-width="0.6" />
<g transform="translate(957.5 1439.5) rotate(-90)">
<text x="0.0" y="5.9" font-size="17.07" text-anchor="middle" textLength="22.4" lengthAdjust="spacingAndGlyphs" stroke="#fff" stroke-width="0.3">15”</text>
</g>
<line x1="962.3" y1="1404.2" x2="962.3" y2="1414.0" stroke="#000" stroke-width="1.3"/>
<line x1="968.4" y1="1434.5" x2="968.4" y2="1444.5" stroke="#000" stroke-width="1.3"/>
<path d="M962.3 1414A10.73 10.73 0 0 1 968.4 1434.5Z" fill="#000" stroke="#000" stroke-width="0.6" />
<path d="M965.3 1425.2l5 -5M970.3 1427.2l3 -3" fill="none" stroke="#fff" stroke-width="0.6" />
<g transform="translate(961.0 1563.0) rotate(-90)">
<text x="0.0" y="5.9" font-size="17.07" text-anchor="middle" textLength="16.0" lengthAdjust="spacingAndGlyphs" stroke="#fff" stroke-width="0.3">3”</text>
</g>
<g transform="translate(830.7 1666.1) rotate(-90)">
<text x="0.0" y="6.1" font-size="17.69" text-anchor="middle" textLength="27.7" lengthAdjust="spacingAndGlyphs" stroke="#fff" stroke-width="0.01">3½”</text>
</g>
<line x1="840.5" y1="1624.2" x2="840.5" y2="1634.0" stroke="#000" stroke-width="1.3"/>
<line x1="846.4" y1="1653.7" x2="846.4" y2="1663.7" stroke="#000" stroke-width="1.3"/>
<path d="M840.5 1634A10.31 10.31 0 0 1 846.4 1653.7Z" fill="#000" stroke="#000" stroke-width="0.6" />
<path d="M843.5 1644.8l5 -5M848.5 1646.8l3 -3" fill="none" stroke="#fff" stroke-width="0.6" />
<g transform="translate(831.5 1709.0) rotate(-90)">
<text x="0.0" y="5.9" font-size="17.07" text-anchor="middle" textLength="16.0" lengthAdjust="spacingAndGlyphs" stroke="#fff" stroke-width="0.3">2”</text>
</g>
<line x1="592.5" y1="1144.4" x2="628.4" y2="1144.4" stroke="#000" stroke-width="1.4"/>
<polygon points="628.4,1144.4 611.4,1148.0 611.4,1140.8" fill="#000"/>
<line x1="694.2" y1="1144.4" x2="733.0" y2="1144.4" stroke="#000" stroke-width="1.4"/>
<polygon points="694.2,1144.4 711.2,1140.8 711.2,1148.0" fill="#000"/>
<line x1="1032.0" y1="1144.4" x2="1070.0" y2="1144.4" stroke="#000" stroke-width="1.4"/>
<polygon points="1070.0,1144.4 1053.0,1148.0 1053.0,1140.8" fill="#000"/>
<line x1="1136.0" y1="1144.4" x2="1172.5" y2="1144.4" stroke="#000" stroke-width="1.4"/>
<polygon points="1136.0,1144.4 1153.0,1140.8 1153.0,1148.0" fill="#000"/>
<text x="648.4" y="1151.1" font-size="18.63" textLength="34.7" lengthAdjust="spacingAndGlyphs" stroke="#fff" stroke-width="0.3">6.0’</text>
<text x="1088.5" y="1151.1" font-size="18.63" textLength="34.3" lengthAdjust="spacingAndGlyphs" stroke="#fff" stroke-width="0.3">6.0’</text>
<line x1="592.2" y1="1731.0" x2="628.2" y2="1731.0" stroke="#000" stroke-width="1.4"/>
<polygon points="628.2,1731.0 611.2,1734.6 611.2,1727.4" fill="#000"/>
<line x1="689.5" y1="1731.0" x2="728.5" y2="1731.0" stroke="#000" stroke-width="1.4"/>
<polygon points="689.5,1731.0 706.5,1727.4 706.5,1734.6" fill="#000"/>
<text x="640.9" y="1736.1" font-size="18.63" textLength="32.9" lengthAdjust="spacingAndGlyphs" stroke="#fff" stroke-width="0.3">5.5’</text>
<line x1="1036.4" y1="1646.0" x2="1070.0" y2="1646.0" stroke="#000" stroke-width="1.4"/>
<polygon points="1070.0,1646.0 1053.0,1649.6 1053.0,1642.4" fill="#000"/>
<line x1="1136.0" y1="1646.0" x2="1172.7" y2="1646.0" stroke="#000" stroke-width="1.4"/>
<polygon points="1136.0,1646.0 1153.0,1642.4 1153.0,1649.6" fill="#000"/>
<text x="1089.9" y="1652.4" font-size="18.63" textLength="33.7" lengthAdjust="spacingAndGlyphs" stroke="#fff" stroke-width="0.3">5.5’</text>
<line x1="722.6" y1="1012.5" x2="722.6" y2="1348.0" stroke="#000" stroke-width="1.3"/>
<line x1="722.6" y1="1411.7" x2="722.6" y2="1756.0" stroke="#000" stroke-width="1.3"/>
<text x="728.1" y="1407.5" font-size="21.82" textLength="59.6" lengthAdjust="spacingAndGlyphs" transform="rotate(-90 729.4 1407.5)" stroke="#fff" stroke-width="0.7">74’−1”</text>
<path d="M717 1008L727 1020.5" fill="none" stroke="#000" stroke-width="1.9" />
<path d="M716.5 1751L727.5 1762" fill="none" stroke="#000" stroke-width="1.9" />
<line x1="692.0" y1="1508.4" x2="838.0" y2="1508.4" stroke="#000" stroke-width="1.3"/>
<line x1="917.0" y1="1508.4" x2="1072.0" y2="1508.4" stroke="#000" stroke-width="1.3"/>
<text x="843.4" y="1514.6" font-size="20.11" textLength="70.6" lengthAdjust="spacingAndGlyphs" stroke="#fff" stroke-width="0.6">38’−11”</text>
<path d="M682 1514L693 1505.5" fill="none" stroke="#000" stroke-width="1.9" />
<path d="M1070 1512L1081 1503.5" fill="none" stroke="#000" stroke-width="1.9" />
<line x1="863.6" y1="1762.0" x2="863.6" y2="1846.0" stroke="#000" stroke-width="1.3"/>
<line x1="863.6" y1="1901.0" x2="863.6" y2="1954.0" stroke="#000" stroke-width="1.3"/>
<polygon points="863.6,1757.5 867.2,1776.5 860.0,1776.5" fill="#000"/>
<polygon points="863.6,1955.0 860.0,1938.0 867.2,1938.0" fill="#000"/>
<text x="868.9" y="1894.5" font-size="19.15" textLength="45.3" lengthAdjust="spacingAndGlyphs" transform="rotate(-90 870.0 1894.5)" stroke="#fff" stroke-width="0.3">20.5’</text>
<line x1="1065.8" y1="1685.0" x2="1065.8" y2="1822.0" stroke="#000" stroke-width="1.3"/>
<line x1="1065.8" y1="1872.0" x2="1065.8" y2="2012.0" stroke="#000" stroke-width="1.3"/>
<polygon points="1065.8,1682.0 1069.4,1701.0 1062.2,1701.0" fill="#000"/>
<polygon points="1065.8,2013.6 1062.2,1994.6 1069.4,1994.6" fill="#000"/>
<text x="1071.1" y="1869.0" font-size="19.15" textLength="45.3" lengthAdjust="spacingAndGlyphs" transform="rotate(-90 1072.2 1869.0)" stroke="#fff" stroke-width="0.3">33.4’</text>
<path d="M1096.8 1924.9V1948.5L1129.2 1924.9V1948.5Z" fill="none" stroke="#000" stroke-width="1.8" />
<path d="M1136.4 1923.2V1946.8L1168.8 1923.2V1946.8Z" fill="none" stroke="#000" stroke-width="1.8" />
<path d="M865.8 1947.2V1972.0L898.6 1947.2V1972.0Z" fill="none" stroke="#000" stroke-width="2.0" />
<text x="1092.8" y="1919.6" font-size="16.12" textLength="30.1" lengthAdjust="spacingAndGlyphs" font-weight="bold">WM.</text>
<text x="1141.0" y="1919.2" font-size="16.12" textLength="30.5" lengthAdjust="spacingAndGlyphs" font-weight="bold">WM.</text>
<text x="835.4" y="1976.5" font-size="16.12" textLength="28.5" lengthAdjust="spacingAndGlyphs" font-weight="bold">WM.</text>
<path d="M225.0 1117.5L245.0 1083.1H285.0L305.0 1117.5L285.0 1151.9H245.0ZM225.0 1117.5H305.0" fill="none" stroke="#000" stroke-width="1.8" />
<text x="265.0" y="1110.1" font-size="24.57" text-anchor="middle" textLength="29.4" lengthAdjust="spacingAndGlyphs" stroke="#fff" stroke-width="0.45">17</text>
<text x="265.0" y="1143.0" font-size="24.57" text-anchor="middle" textLength="29.4" lengthAdjust="spacingAndGlyphs" stroke="#fff" stroke-width="0.45">11</text>
<text x="198.8" y="1177.8" font-size="24.36" textLength="103.6" lengthAdjust="spacingAndGlyphs" stroke="#fff" stroke-width="0.45">E=558.0</text>
<text x="198.8" y="1201.2" font-size="24.36" textLength="103.6" lengthAdjust="spacingAndGlyphs" stroke="#fff" stroke-width="0.45">F=558.5</text>
<path d="M1474.7 1117.5L1494.7 1083.1H1534.7L1554.7 1117.5L1534.7 1151.9H1494.7ZM1474.7 1117.5H1554.7" fill="none" stroke="#000" stroke-width="1.8" />
<text x="1514.7" y="1110.1" font-size="24.57" text-anchor="middle" textLength="29.4" lengthAdjust="spacingAndGlyphs" stroke="#fff" stroke-width="0.45">16</text>
<text x="1514.7" y="1143.0" font-size="24.57" text-anchor="middle" textLength="29.4" lengthAdjust="spacingAndGlyphs" stroke="#fff" stroke-width="0.45">10</text>
<text x="1447.7" y="1177.8" font-size="24.36" textLength="99.2" lengthAdjust="spacingAndGlyphs" stroke="#fff" stroke-width="0.45">E=558.1</text>
<text x="1448.5" y="1201.2" font-size="24.36" textLength="102.4" lengthAdjust="spacingAndGlyphs" stroke="#fff" stroke-width="0.45">F=558.6</text>
<path d="M201.0 1693.4L221.0 1659.0H261.0L281.0 1693.4L261.0 1727.8H221.0ZM201.0 1693.4H281.0" fill="none" stroke="#000" stroke-width="1.8" />
<text x="241.0" y="1686.0" font-size="24.57" text-anchor="middle" textLength="29.4" lengthAdjust="spacingAndGlyphs" stroke="#fff" stroke-width="0.45">37</text>
<text x="241.0" y="1718.9" font-size="24.57" text-anchor="middle" textLength="29.4" lengthAdjust="spacingAndGlyphs" stroke="#fff" stroke-width="0.45">28</text>
<text x="175.2" y="1754.0" font-size="24.36" textLength="103.2" lengthAdjust="spacingAndGlyphs" stroke="#fff" stroke-width="0.45">E=556.3</text>
<text x="175.2" y="1777.2" font-size="24.36" textLength="97.9" lengthAdjust="spacingAndGlyphs" stroke="#fff" stroke-width="0.45">F=557.1</text>
<path d="M1448.5 1682.7L1468.5 1648.3H1508.5L1528.5 1682.7L1508.5 1717.1H1468.5ZM1448.5 1682.7H1528.5" fill="none" stroke="#000" stroke-width="1.8" />
<text x="1488.5" y="1675.3" font-size="24.57" text-anchor="middle" textLength="29.4" lengthAdjust="spacingAndGlyphs" stroke="#fff" stroke-width="0.45">36</text>
<text x="1488.5" y="1708.2" font-size="24.57" text-anchor="middle" textLength="29.4" lengthAdjust="spacingAndGlyphs" stroke="#fff" stroke-width="0.45">24</text>
<text x="1422.3" y="1742.5" font-size="24.36" textLength="103.7" lengthAdjust="spacingAndGlyphs" stroke="#fff" stroke-width="0.45">E=556.4</text>
<text x="1422.3" y="1766.6" font-size="24.36" textLength="103.7" lengthAdjust="spacingAndGlyphs" stroke="#fff" stroke-width="0.45">F=557.4</text>
<text x="867.1" y="847.5" font-size="15.2" textLength="52.8" lengthAdjust="spacingAndGlyphs" stroke="#fff" stroke-width="0.3">558.48</text>
<path d="M879.6 851l6 6m0 -6l-6 6" fill="none" stroke="#000" stroke-width="0.9" />
<g transform="translate(602.4 890.0) rotate(-56)">
<text x="0.0" y="5.2" font-size="15.2" text-anchor="middle" textLength="51.8" lengthAdjust="spacingAndGlyphs" stroke="#fff" stroke-width="0.3">558.55</text>
</g>
<g transform="translate(612.6 973.7) rotate(-56)">
<text x="0.0" y="5.2" font-size="15.2" text-anchor="middle" textLength="51.8" lengthAdjust="spacingAndGlyphs" stroke="#fff" stroke-width="0.3">558.43</text>
</g>
<path d="M637 947l6 8m1 -7l-8 6" fill="none" stroke="#000" stroke-width="0.9" />
<g transform="translate(1161.6 824.6) rotate(-56)">
<text x="0.0" y="5.2" font-size="15.2" text-anchor="middle" textLength="51.8" lengthAdjust="spacingAndGlyphs" stroke="#fff" stroke-width="0.3">558.40</text>
</g>
<text x="1055.5" y="977.9" font-size="15.2" textLength="52.6" lengthAdjust="spacingAndGlyphs" stroke="#fff" stroke-width="0.3">558.55</text>
<g transform="translate(872.3 927.5) rotate(-90)">
<text x="0.0" y="5.2" font-size="15.2" text-anchor="middle" textLength="51.8" lengthAdjust="spacingAndGlyphs" stroke="#fff" stroke-width="0.3">558.42</text>
</g>
<path d="M883 961l6 6m0 -6l-6 6" fill="none" stroke="#000" stroke-width="0.9" />
<g transform="translate(654.5 1330.0) rotate(-56)">
<text x="0.0" y="5.2" font-size="15.2" text-anchor="middle" textLength="51.8" lengthAdjust="spacingAndGlyphs" stroke="#fff" stroke-width="0.3">557.17</text>
</g>
<g transform="translate(876.0 1390.8) rotate(-56)">
<text x="0.0" y="5.2" font-size="15.2" text-anchor="middle" textLength="51.8" lengthAdjust="spacingAndGlyphs" stroke="#fff" stroke-width="0.3">557.28</text>
</g>
<path d="M881 1366l6 7m1 -6l-8 5" fill="none" stroke="#000" stroke-width="0.9" />
<g transform="translate(1105.9 1388.0) rotate(-56)">
<text x="0.0" y="5.2" font-size="15.2" text-anchor="middle" textLength="51.8" lengthAdjust="spacingAndGlyphs" stroke="#fff" stroke-width="0.3">557.41</text>
</g>
<path d="M1122.5 1362l6 7m1 -6l-8 5" fill="none" stroke="#000" stroke-width="0.9" />
<g transform="translate(608.3 1785.7) rotate(-56)">
<text x="0.0" y="5.2" font-size="15.2" text-anchor="middle" textLength="51.8" lengthAdjust="spacingAndGlyphs" stroke="#fff" stroke-width="0.3">556.07</text>
</g>
<g transform="translate(1111.8 1777.9) rotate(-56)">
<text x="0.0" y="5.2" font-size="15.2" text-anchor="middle" textLength="51.8" lengthAdjust="spacingAndGlyphs" stroke="#fff" stroke-width="0.3">556.18</text>
</g>
<g transform="translate(635.8 1993.0) rotate(-56)">
<text x="0.0" y="5.2" font-size="15.2" text-anchor="middle" textLength="51.8" lengthAdjust="spacingAndGlyphs" stroke="#fff" stroke-width="0.3">554.83</text>
</g>
<g transform="translate(1098.4 1988.0) rotate(-56)">
<text x="0.0" y="5.2" font-size="15.2" text-anchor="middle" textLength="51.8" lengthAdjust="spacingAndGlyphs" stroke="#fff" stroke-width="0.3">555.34</text>
</g>
<text x="596.1" y="2119.5" font-size="15.2" textLength="51.8" lengthAdjust="spacingAndGlyphs" transform="rotate(-56 597.0 2119.5)" stroke="#fff" stroke-width="0.3">T.O.C.=</text>
<text x="613.2" y="2121.2" font-size="15.2" textLength="52.3" lengthAdjust="spacingAndGlyphs" transform="rotate(-56 614.1 2121.2)" stroke="#fff" stroke-width="0.3">554.89</text>
<text x="630.2" y="2120.5" font-size="15.2" textLength="42.8" lengthAdjust="spacingAndGlyphs" transform="rotate(-56 631.1 2120.5)" stroke="#fff" stroke-width="0.3">GUT.=</text>
<text x="643.3" y="2128.3" font-size="15.2" textLength="52.8" lengthAdjust="spacingAndGlyphs" transform="rotate(-56 644.2 2128.3)" stroke="#fff" stroke-width="0.3">554.46</text>
<text x="836.5" y="2110.2" font-size="15.2" textLength="51.8" lengthAdjust="spacingAndGlyphs" transform="rotate(-56 837.4 2110.2)" stroke="#fff" stroke-width="0.3">T.O.C.=</text>
<text x="852.5" y="2110.2" font-size="15.2" textLength="52.3" lengthAdjust="spacingAndGlyphs" transform="rotate(-56 853.4 2110.2)" stroke="#fff" stroke-width="0.3">555.12</text>
<text x="871.2" y="2110.2" font-size="15.2" textLength="42.8" lengthAdjust="spacingAndGlyphs" transform="rotate(-56 872.1 2110.2)" stroke="#fff" stroke-width="0.3">GUT.=</text>
<text x="890.0" y="2111.6" font-size="15.2" textLength="52.8" lengthAdjust="spacingAndGlyphs" transform="rotate(-56 890.9 2111.6)" stroke="#fff" stroke-width="0.3">554.66</text>
<text x="1093.2" y="2112.9" font-size="15.2" textLength="51.8" lengthAdjust="spacingAndGlyphs" transform="rotate(-56 1094.1 2112.9)" stroke="#fff" stroke-width="0.3">T.O.C.=</text>
<text x="1109.2" y="2110.2" font-size="15.2" textLength="52.3" lengthAdjust="spacingAndGlyphs" transform="rotate(-56 1110.1 2110.2)" stroke="#fff" stroke-width="0.3">555.31</text>
<text x="1126.6" y="2112.9" font-size="15.2" textLength="42.8" lengthAdjust="spacingAndGlyphs" transform="rotate(-56 1127.5 2112.9)" stroke="#fff" stroke-width="0.3">GUT.=</text>
<text x="1144.0" y="2111.6" font-size="15.2" textLength="52.8" lengthAdjust="spacingAndGlyphs" transform="rotate(-56 1144.9 2111.6)" stroke="#fff" stroke-width="0.3">554.87</text>
<path d="M629 2050l5 12m-6 -4l8 -5M629 2060l5 10m-6 -3l8 -5M872 2046l5 12m-6 -4l8 -5M874 2060l5 12m-6 -4l8 -5M1129 2048l5 12m-6 -4l8 -5" fill="none" stroke="#000" stroke-width="0.9" />
<line x1="59.0" y1="2144.0" x2="457.6" y2="2144.0" stroke="#808080" stroke-width="2.0"/>
<line x1="59.0" y1="2175.3" x2="457.6" y2="2175.3" stroke="#808080" stroke-width="2.0"/>
<line x1="59.0" y1="2207.0" x2="457.6" y2="2207.0" stroke="#808080" stroke-width="2.0"/>
<line x1="59.0" y1="2237.7" x2="457.6" y2="2237.7" stroke="#808080" stroke-width="2.0"/>
<line x1="59.0" y1="2269.1" x2="457.6" y2="2269.1" stroke="#808080" stroke-width="2.0"/>
<line x1="59.0" y1="2299.9" x2="457.6" y2="2299.9" stroke="#808080" stroke-width="2.0"/>
<line x1="59.0" y1="2331.8" x2="457.6" y2="2331.8" stroke="#808080" stroke-width="2.0"/>
<line x1="59.0" y1="2362.9" x2="457.6" y2="2362.9" stroke="#808080" stroke-width="2.0"/>
<line x1="59.0" y1="2393.6" x2="457.6" y2="2393.6" stroke="#808080" stroke-width="2.0"/>
<line x1="59.0" y1="2425.0" x2="457.6" y2="2425.0" stroke="#808080" stroke-width="2.0"/>
<line x1="59.0" y1="2456.3" x2="457.6" y2="2456.3" stroke="#808080" stroke-width="2.0"/>
<line x1="59.0" y1="2487.6" x2="457.6" y2="2487.6" stroke="#808080" stroke-width="2.0"/>
<line x1="59.0" y1="2519.0" x2="457.6" y2="2519.0" stroke="#808080" stroke-width="2.0"/>
<line x1="59.0" y1="2550.0" x2="457.6" y2="2550.0" stroke="#808080" stroke-width="2.0"/>
<line x1="59.0" y1="2582.0" x2="457.6" y2="2582.0" stroke="#808080" stroke-width="2.0"/>
<line x1="59.0" y1="2612.8" x2="457.6" y2="2612.8" stroke="#808080" stroke-width="2.0"/>
<line x1="59.0" y1="2643.9" x2="457.6" y2="2643.9" stroke="#808080" stroke-width="2.0"/>
<line x1="59.0" y1="2675.2" x2="457.6" y2="2675.2" stroke="#808080" stroke-width="2.0"/>
<line x1="59.0" y1="2706.6" x2="457.6" y2="2706.6" stroke="#808080" stroke-width="2.0"/>
<line x1="326.9" y1="2112.3" x2="326.9" y2="2741.0" stroke="#808080" stroke-width="2.0"/>
<line x1="66.0" y1="2081.5" x2="457.6" y2="2081.5" stroke="#000" stroke-width="1.3"/>
<line x1="66.0" y1="2112.3" x2="457.6" y2="2112.3" stroke="#000" stroke-width="1.3"/>
<line x1="457.6" y1="2081.5" x2="457.6" y2="2734.0" stroke="#000" stroke-width="1.3"/>
<text x="189.1" y="2104.6" font-size="26.0" textLength="107.6" lengthAdjust="spacingAndGlyphs" font-weight="bold" fill="#fff" stroke="#000" stroke-width="1.1" letter-spacing="6">AREAS</text>
<text x="74.5" y="2136.9" font-size="24.54" textLength="98.5" lengthAdjust="spacingAndGlyphs">DRIVEWAY</text>
<text x="453.5" y="2136.9" font-size="24.54" text-anchor="end" textLength="107.4" lengthAdjust="spacingAndGlyphs">364 SQ. FT.</text>
<text x="74.5" y="2168.2" font-size="24.54" textLength="105.4" lengthAdjust="spacingAndGlyphs">APPROACH</text>
<text x="453.5" y="2168.2" font-size="24.54" text-anchor="end" textLength="107.4" lengthAdjust="spacingAndGlyphs">194 SQ. FT.</text>
<text x="74.5" y="2199.9" font-size="24.54" textLength="110.9" lengthAdjust="spacingAndGlyphs">LEAD WALK</text>
<text x="453.5" y="2199.9" font-size="24.54" text-anchor="end" textLength="84.9" lengthAdjust="spacingAndGlyphs">9 SQ. FT.</text>
<text x="74.5" y="2230.6" font-size="24.54" textLength="130.9" lengthAdjust="spacingAndGlyphs">PUBLIC WALK</text>
<text x="453.5" y="2230.6" font-size="24.54" text-anchor="end" textLength="107.4" lengthAdjust="spacingAndGlyphs">120 SQ. FT.</text>
<text x="74.5" y="2262.0" font-size="24.54" textLength="55.9" lengthAdjust="spacingAndGlyphs">PATIO</text>
<text x="453.5" y="2262.0" font-size="24.54" text-anchor="end" textLength="34.9" lengthAdjust="spacingAndGlyphs">N/A</text>
<text x="74.5" y="2292.8" font-size="24.54" textLength="110.5" lengthAdjust="spacingAndGlyphs">HVAC PADS</text>
<text x="453.5" y="2292.8" font-size="24.54" text-anchor="end" textLength="95.4" lengthAdjust="spacingAndGlyphs">16 SQ. FT.</text>
<text x="74.5" y="2324.7" font-size="24.54" textLength="60.4" lengthAdjust="spacingAndGlyphs">TOTAL</text>
<text x="453.5" y="2324.7" font-size="24.54" text-anchor="end" textLength="107.4" lengthAdjust="spacingAndGlyphs">703 SQ. FT.</text>
<text x="74.5" y="2386.5" font-size="24.54" textLength="110.5" lengthAdjust="spacingAndGlyphs">FRONT SOD</text>
<text x="453.5" y="2386.5" font-size="24.54" text-anchor="end" textLength="107.4" lengthAdjust="spacingAndGlyphs">154SQ. YD.</text>
<text x="74.5" y="2417.9" font-size="24.54" textLength="97.6" lengthAdjust="spacingAndGlyphs">REAR SOD</text>
<text x="453.5" y="2417.9" font-size="24.54" text-anchor="end" textLength="107.4" lengthAdjust="spacingAndGlyphs">165SQ. YD.</text>
<text x="74.5" y="2480.5" font-size="24.54" textLength="126.9" lengthAdjust="spacingAndGlyphs">TOTAL FENCE</text>
<text x="453.5" y="2480.5" font-size="24.54" text-anchor="end" textLength="106.5" lengthAdjust="spacingAndGlyphs">126 LN. FT.</text>
<text x="74.5" y="2542.9" font-size="24.54" textLength="193.9" lengthAdjust="spacingAndGlyphs">AVERAGE EXPOSURE</text>
<text x="453.5" y="2542.9" font-size="24.54" text-anchor="end" textLength="30.5" lengthAdjust="spacingAndGlyphs">27"</text>
<text x="74.5" y="2574.9" font-size="24.54" textLength="123.9" lengthAdjust="spacingAndGlyphs">DRIVE SLOPE</text>
<text x="453.5" y="2574.9" font-size="24.54" text-anchor="end" textLength="46.5" lengthAdjust="spacingAndGlyphs">8.5%</text>
<text x="74.5" y="2605.7" font-size="24.54" textLength="225.9" lengthAdjust="spacingAndGlyphs">IMPERVIOUS COVERAGE</text>
<text x="453.5" y="2605.7" font-size="24.54" text-anchor="end" textLength="125.9" lengthAdjust="spacingAndGlyphs">2,802 SQ. FT.</text>
<text x="74.5" y="2636.8" font-size="24.54" textLength="247.9" lengthAdjust="spacingAndGlyphs">IMPERVIOUS COVERAGE %</text>
<text x="453.5" y="2636.8" font-size="24.54" text-anchor="end" textLength="40.9" lengthAdjust="spacingAndGlyphs">51%</text>
<text x="74.5" y="2668.1" font-size="24.54" textLength="104.4" lengthAdjust="spacingAndGlyphs">SLAB AREA</text>
<text x="453.5" y="2668.1" font-size="24.54" text-anchor="end" textLength="125.9" lengthAdjust="spacingAndGlyphs">2,263 SQ. FT.</text>
<text x="74.5" y="2699.5" font-size="24.54" textLength="91.5" lengthAdjust="spacingAndGlyphs">LOT AREA</text>
<text x="453.5" y="2699.5" font-size="24.54" text-anchor="end" textLength="125.9" lengthAdjust="spacingAndGlyphs">5,500 SQ. FT.</text>
<text x="654.7" y="2422.3" font-size="25.5" textLength="193.5" lengthAdjust="spacingAndGlyphs" style="font-family:'Liberation Serif',serif" font-style="italic" word-spacing="5" stroke="#000" stroke-width="0.6">SITE PLAN OF</text>
<text x="595.4" y="2449.2" font-size="25.5" textLength="312.1" lengthAdjust="spacingAndGlyphs" style="font-family:'Liberation Serif',serif" font-style="italic" word-spacing="5" stroke="#000" stroke-width="0.6">2524 HERITANCE PASS</text>
<text x="617.4" y="2475.3" font-size="25.5" textLength="268.1" lengthAdjust="spacingAndGlyphs" style="font-family:'Liberation Serif',serif" font-style="italic" word-spacing="5" stroke="#000" stroke-width="0.6">LOT 419, BLOCK 16</text>
<text x="473.0" y="2509.3" font-size="36.5" textLength="559.6" lengthAdjust="spacingAndGlyphs" style="font-family:'Liberation Serif',serif" font-style="italic" word-spacing="5" stroke="#000" stroke-width="0.25">HIDDENBROOKE SUBDIVISION,</text>
<text x="684.5" y="2543.7" font-size="36.5" textLength="132.5" lengthAdjust="spacingAndGlyphs" style="font-family:'Liberation Serif',serif" font-style="italic" word-spacing="5" stroke="#000" stroke-width="0.25">UNIT 3</text>
<text x="639.0" y="2572.7" font-size="25.5" textLength="223.0" lengthAdjust="spacingAndGlyphs" style="font-family:'Liberation Serif',serif" font-style="italic" word-spacing="5" stroke="#000" stroke-width="0.6">CITY OF SEGUIN</text>
<text x="562.0" y="2598.8" font-size="25.5" textLength="377.4" lengthAdjust="spacingAndGlyphs" style="font-family:'Liberation Serif',serif" font-style="italic" word-spacing="5" stroke="#000" stroke-width="0.6">GUADALUPE COUNTY, TEXAS</text>
<text x="642.6" y="2656.9" font-size="23.1" word-spacing="6.93" textLength="112.5" lengthAdjust="spacingAndGlyphs" stroke="#fff" stroke-width="0.15">DRAWN BY:</text>
<text x="781.7" y="2655.0" font-size="21.23" textLength="39.9" lengthAdjust="spacingAndGlyphs" stroke="#fff" stroke-width="0.3">A.R.</text>
<line x1="765.3" y1="2657.9" x2="832.9" y2="2657.9" stroke="#000" stroke-width="1.6"/>
<text x="642.6" y="2684.7" font-size="23.1" textLength="54.8" lengthAdjust="spacingAndGlyphs" stroke="#fff" stroke-width="0.15">DATE:</text>
<text x="732.1" y="2682.7" font-size="21.23" textLength="102.8" lengthAdjust="spacingAndGlyphs" stroke="#fff" stroke-width="0.3">1/2/2025</text>
<line x1="707.3" y1="2686.0" x2="867.7" y2="2686.0" stroke="#000" stroke-width="1.6"/>
<text x="1349.9" y="2564.6" font-size="28.29" textLength="227.2" lengthAdjust="spacingAndGlyphs" stroke="#fff" stroke-width="0.5" word-spacing="6">SINCLAIR LAND</text>
<text x="1347.0" y="2593.6" font-size="28.29" textLength="246.7" lengthAdjust="spacingAndGlyphs" stroke="#fff" stroke-width="0.5" word-spacing="6">SURVEYING, INC.</text>
<text x="1367.0" y="2630.0" font-size="20.71" word-spacing="6.21" textLength="191.5" lengthAdjust="spacingAndGlyphs" stroke="#fff" stroke-width="0.3">3411 MAGIC DRIVE</text>
<text x="1318.5" y="2651.6" font-size="20.71" word-spacing="6.21" textLength="288.5" lengthAdjust="spacingAndGlyphs" stroke="#fff" stroke-width="0.3">SAN ANTONIO, TEXAS 78229</text>
<text x="1386.8" y="2674.2" font-size="20.71" textLength="151.8" lengthAdjust="spacingAndGlyphs" stroke="#fff" stroke-width="0.3">210−341−4518</text>
<text x="1325.8" y="2693.0" font-size="20.71" word-spacing="6.21" textLength="275.8" lengthAdjust="spacingAndGlyphs" stroke="#fff" stroke-width="0.3">TBPELS FIRM NO.10089000</text>
<text x="1317.3" y="2717.0" font-size="20.71" word-spacing="6.21" textLength="290.5" lengthAdjust="spacingAndGlyphs" stroke="#fff" stroke-width="0.3">JOB NUMBER: S−202584908</text>
</g>
<path d="M1118.7 2680.6A111.2 111.2 0 1 1 1274.4 2681.3L1258.9 2665.4A89 89 0 1 0 1134.3 2664.9Z" fill="#d9622b"/>
<path d="M1262.1 2691.4A111 111 0 0 1 1130.9 2690.8L1144.0 2673.1A89 89 0 0 0 1249.2 2673.6Z" fill="#231f20"/>
<circle cx="1196.9" cy="2601.6" r="62.8" fill="none" stroke="#231f20" stroke-width="17.2"/>
<polygon points="1176.3,2556.2 1218,2556.2 1226,2564.2 1226,2582.7 1210,2582.7 1210,2572.3 1184.3,2572.3 1184.3,2585.1 1215.6,2585.1 1226,2595.5 1226,2638 1218,2646.1 1176.3,2646.1 1167.9,2638 1167.9,2619.6 1184.3,2619.6 1184.3,2630 1210,2630 1210,2600.3 1177.1,2600.3 1167.9,2591.5 1167.9,2564.2" fill="#d9622b"/>
<rect x="1191.5" y="2460" width="10.4" height="278" rx="5" fill="#231f20"/>
<rect x="1190.5" y="2556.2" width="12.4" height="16.1" fill="#d9622b"/>
<rect x="1190.5" y="2630" width="12.4" height="16.1" fill="#d9622b"/>
<line x1="1197.6" y1="2556.2" x2="1197.6" y2="2572.3" stroke="#231f20" stroke-width="1.6"/>
<line x1="1054.5" y1="2606.6" x2="1634.7" y2="2606.6" stroke="#231f20" stroke-width="2.8"/>
<line x1="1210.5" y1="2608.4" x2="1225.0" y2="2608.4" stroke="#fff" stroke-width="1.0"/>
</svg>
</body></html>
